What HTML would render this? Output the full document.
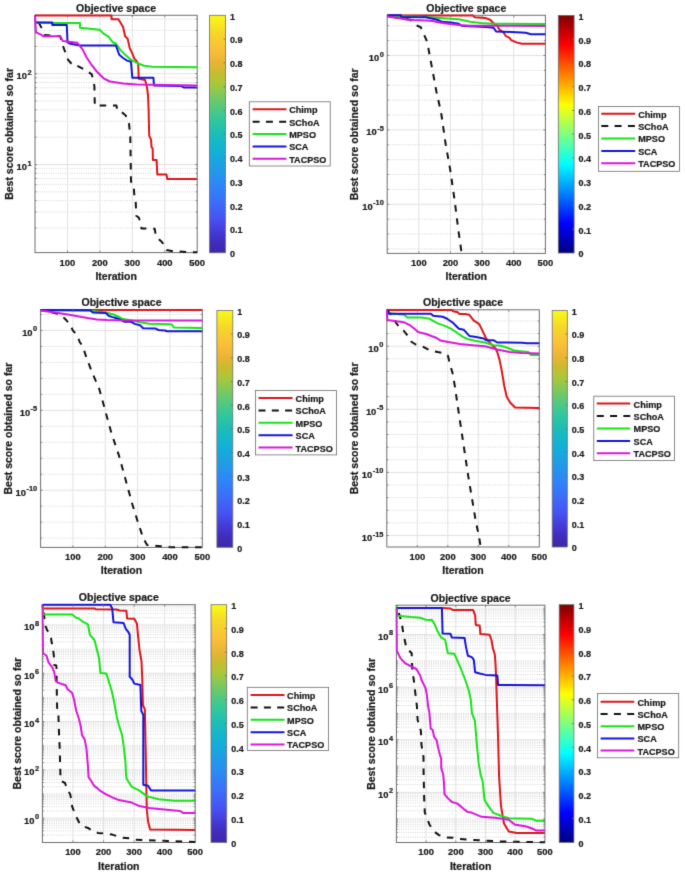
<!DOCTYPE html>
<html><head><meta charset="utf-8"><title>Objective space</title>
<style>html,body{margin:0;padding:0;background:#fff;width:685px;height:876px;overflow:hidden}svg{display:block}</style>
</head><body>
<svg width="685" height="876" viewBox="0 0 685 876"><defs><filter id="bl" x="0" y="0" width="685" height="876" filterUnits="userSpaceOnUse" color-interpolation-filters="sRGB"><feConvolveMatrix order="3" kernelMatrix="0.01 0.09 0.01 0.09 0.6 0.09 0.01 0.09 0.01" edgeMode="duplicate" preserveAlpha="true"/></filter><linearGradient id="parula" x1="0" y1="1" x2="0" y2="0"><stop offset="0.0000" stop-color="#3e26a8"/><stop offset="0.0500" stop-color="#412ec0"/><stop offset="0.0950" stop-color="#443ddb"/><stop offset="0.1430" stop-color="#4752f4"/><stop offset="0.2150" stop-color="#3b6ef9"/><stop offset="0.2860" stop-color="#2d87f7"/><stop offset="0.3570" stop-color="#1f9de6"/><stop offset="0.4290" stop-color="#12b1d6"/><stop offset="0.5000" stop-color="#1cbdb8"/><stop offset="0.5710" stop-color="#37c897"/><stop offset="0.6430" stop-color="#6cc96a"/><stop offset="0.7140" stop-color="#abc739"/><stop offset="0.7600" stop-color="#c9bb30"/><stop offset="0.8000" stop-color="#e8b435"/><stop offset="0.8570" stop-color="#fbbf38"/><stop offset="0.9300" stop-color="#f5d82a"/><stop offset="1.0000" stop-color="#f9fb15"/></linearGradient><linearGradient id="jet" x1="0" y1="1" x2="0" y2="0"><stop offset="0.0000" stop-color="#000080"/><stop offset="0.0156" stop-color="#00008f"/><stop offset="0.0312" stop-color="#00009f"/><stop offset="0.0469" stop-color="#0000af"/><stop offset="0.0625" stop-color="#0000bf"/><stop offset="0.0781" stop-color="#0000cf"/><stop offset="0.0938" stop-color="#0000df"/><stop offset="0.1094" stop-color="#0000ef"/><stop offset="0.1250" stop-color="#0000ff"/><stop offset="0.1406" stop-color="#0010ff"/><stop offset="0.1562" stop-color="#0020ff"/><stop offset="0.1719" stop-color="#0030ff"/><stop offset="0.1875" stop-color="#0040ff"/><stop offset="0.2031" stop-color="#0050ff"/><stop offset="0.2188" stop-color="#0060ff"/><stop offset="0.2344" stop-color="#0070ff"/><stop offset="0.2500" stop-color="#0080ff"/><stop offset="0.2656" stop-color="#008fff"/><stop offset="0.2812" stop-color="#009fff"/><stop offset="0.2969" stop-color="#00afff"/><stop offset="0.3125" stop-color="#00bfff"/><stop offset="0.3281" stop-color="#00cfff"/><stop offset="0.3438" stop-color="#00dfff"/><stop offset="0.3594" stop-color="#00efff"/><stop offset="0.3750" stop-color="#00ffff"/><stop offset="0.3906" stop-color="#10ffef"/><stop offset="0.4062" stop-color="#20ffdf"/><stop offset="0.4219" stop-color="#30ffcf"/><stop offset="0.4375" stop-color="#40ffbf"/><stop offset="0.4531" stop-color="#50ffaf"/><stop offset="0.4688" stop-color="#60ff9f"/><stop offset="0.4844" stop-color="#70ff8f"/><stop offset="0.5000" stop-color="#80ff80"/><stop offset="0.5156" stop-color="#8fff70"/><stop offset="0.5312" stop-color="#9fff60"/><stop offset="0.5469" stop-color="#afff50"/><stop offset="0.5625" stop-color="#bfff40"/><stop offset="0.5781" stop-color="#cfff30"/><stop offset="0.5938" stop-color="#dfff20"/><stop offset="0.6094" stop-color="#efff10"/><stop offset="0.6250" stop-color="#ffff00"/><stop offset="0.6406" stop-color="#ffef00"/><stop offset="0.6562" stop-color="#ffdf00"/><stop offset="0.6719" stop-color="#ffcf00"/><stop offset="0.6875" stop-color="#ffbf00"/><stop offset="0.7031" stop-color="#ffaf00"/><stop offset="0.7188" stop-color="#ff9f00"/><stop offset="0.7344" stop-color="#ff8f00"/><stop offset="0.7500" stop-color="#ff8000"/><stop offset="0.7656" stop-color="#ff7000"/><stop offset="0.7812" stop-color="#ff6000"/><stop offset="0.7969" stop-color="#ff5000"/><stop offset="0.8125" stop-color="#ff4000"/><stop offset="0.8281" stop-color="#ff3000"/><stop offset="0.8438" stop-color="#ff2000"/><stop offset="0.8594" stop-color="#ff1000"/><stop offset="0.8750" stop-color="#ff0000"/><stop offset="0.8906" stop-color="#ef0000"/><stop offset="0.9062" stop-color="#df0000"/><stop offset="0.9219" stop-color="#cf0000"/><stop offset="0.9375" stop-color="#bf0000"/><stop offset="0.9531" stop-color="#af0000"/><stop offset="0.9688" stop-color="#9f0000"/><stop offset="0.9844" stop-color="#8f0000"/><stop offset="1.0000" stop-color="#800000"/></linearGradient></defs><g filter="url(#bl)"><rect width="685" height="876" fill="#fff"/><line x1="35.0" y1="227.97" x2="197.2" y2="227.97" stroke="#cbcbcb" stroke-width="0.8" stroke-dasharray="1 1.3"/>
<line x1="35.0" y1="211.98" x2="197.2" y2="211.98" stroke="#cbcbcb" stroke-width="0.8" stroke-dasharray="1 1.3"/>
<line x1="35.0" y1="200.63" x2="197.2" y2="200.63" stroke="#cbcbcb" stroke-width="0.8" stroke-dasharray="1 1.3"/>
<line x1="35.0" y1="191.83" x2="197.2" y2="191.83" stroke="#cbcbcb" stroke-width="0.8" stroke-dasharray="1 1.3"/>
<line x1="35.0" y1="184.64" x2="197.2" y2="184.64" stroke="#cbcbcb" stroke-width="0.8" stroke-dasharray="1 1.3"/>
<line x1="35.0" y1="178.57" x2="197.2" y2="178.57" stroke="#cbcbcb" stroke-width="0.8" stroke-dasharray="1 1.3"/>
<line x1="35.0" y1="173.30" x2="197.2" y2="173.30" stroke="#cbcbcb" stroke-width="0.8" stroke-dasharray="1 1.3"/>
<line x1="35.0" y1="168.65" x2="197.2" y2="168.65" stroke="#cbcbcb" stroke-width="0.8" stroke-dasharray="1 1.3"/>
<line x1="35.0" y1="137.17" x2="197.2" y2="137.17" stroke="#cbcbcb" stroke-width="0.8" stroke-dasharray="1 1.3"/>
<line x1="35.0" y1="121.18" x2="197.2" y2="121.18" stroke="#cbcbcb" stroke-width="0.8" stroke-dasharray="1 1.3"/>
<line x1="35.0" y1="109.83" x2="197.2" y2="109.83" stroke="#cbcbcb" stroke-width="0.8" stroke-dasharray="1 1.3"/>
<line x1="35.0" y1="101.03" x2="197.2" y2="101.03" stroke="#cbcbcb" stroke-width="0.8" stroke-dasharray="1 1.3"/>
<line x1="35.0" y1="93.84" x2="197.2" y2="93.84" stroke="#cbcbcb" stroke-width="0.8" stroke-dasharray="1 1.3"/>
<line x1="35.0" y1="87.77" x2="197.2" y2="87.77" stroke="#cbcbcb" stroke-width="0.8" stroke-dasharray="1 1.3"/>
<line x1="35.0" y1="82.50" x2="197.2" y2="82.50" stroke="#cbcbcb" stroke-width="0.8" stroke-dasharray="1 1.3"/>
<line x1="35.0" y1="77.85" x2="197.2" y2="77.85" stroke="#cbcbcb" stroke-width="0.8" stroke-dasharray="1 1.3"/>
<line x1="35.0" y1="46.37" x2="197.2" y2="46.37" stroke="#cbcbcb" stroke-width="0.8" stroke-dasharray="1 1.3"/>
<line x1="35.0" y1="30.38" x2="197.2" y2="30.38" stroke="#cbcbcb" stroke-width="0.8" stroke-dasharray="1 1.3"/>
<line x1="35.0" y1="19.03" x2="197.2" y2="19.03" stroke="#cbcbcb" stroke-width="0.8" stroke-dasharray="1 1.3"/>
<line x1="35.0" y1="164.50" x2="197.2" y2="164.50" stroke="#e2e2e2" stroke-width="1"/>
<line x1="35.0" y1="73.70" x2="197.2" y2="73.70" stroke="#e2e2e2" stroke-width="1"/>
<line x1="67.44" y1="15.3" x2="67.44" y2="252.6" stroke="#e2e2e2" stroke-width="1"/>
<line x1="99.88" y1="15.3" x2="99.88" y2="252.6" stroke="#e2e2e2" stroke-width="1"/>
<line x1="132.32" y1="15.3" x2="132.32" y2="252.6" stroke="#e2e2e2" stroke-width="1"/>
<line x1="164.76" y1="15.3" x2="164.76" y2="252.6" stroke="#e2e2e2" stroke-width="1"/>
<rect x="35.0" y="15.3" width="162.2" height="237.3" fill="none" stroke="#6e6e6e" stroke-width="1"/>
<g fill="none" stroke-width="2" stroke-linejoin="round" stroke-linecap="butt">
<clipPath id="c1"><rect x="34.0" y="13.8" width="164.2" height="240.3"/></clipPath>
<path clip-path="url(#c1)" d="M35.0,15.5 L111.5,15.5 L111.5,19.2 L118.5,19.2 L119.9,21.8 L123.1,27.1 L125.1,36.3 L127.7,38.9 L129.7,48.1 L132.3,53.4 L134.3,58.6 L136.3,60.6 L138.2,63.9 L138.7,78.7 L145.1,79.9 L146.9,86.9 L148.0,95.0 L148.6,109.0 L149.2,135.9 L151.0,139.4 L151.5,147.0 L152.7,148.8 L152.9,159.9 L156.6,159.9 L157.3,174.5 L166.5,174.5 L167.2,178.9 L197.2,178.9" stroke="#dc1419"/>
<path clip-path="url(#c1)" d="M35.0,15.5 L41.8,28.4 L44.5,35.0 L60.2,36.3 L62.8,45.5 L68.1,59.9 L73.4,65.8 L77.3,65.8 L85.2,69.8 L91.8,74.4 L94.4,85.9 L94.8,105.6 L116.5,105.6 L117.2,110.2 L121.8,112.2 L125.7,115.5 L129.0,123.4 L130.3,136.5 L131.0,181.5 L133.7,185.5 L134.3,194.7 L135.6,199.9 L136.3,215.7 L138.9,217.7 L140.9,224.9 L141.5,228.5 L154.7,228.8 L156.0,236.7 L160.6,240.7 L163.9,244.6 L166.5,249.9 L173.1,251.2 L194.1,252.3 L197.2,252.3" stroke="#111111" stroke-dasharray="6.5 6.8" stroke-dashoffset="5.5"/>
<path clip-path="url(#c1)" d="M35.0,22.5 L52.3,23.1 L80.0,23.1 L80.0,27.7 L99.6,29.7 L103.6,33.6 L108.8,36.9 L112.6,42.2 L115.9,43.5 L120.5,50.1 L125.8,55.3 L131.0,59.9 L137.6,63.2 L144.2,65.8 L152.0,66.8 L197.2,67.2" stroke="#16e416"/>
<path clip-path="url(#c1)" d="M35.0,22.5 L52.3,22.5 L52.3,25.1 L66.8,25.1 L67.5,42.2 L69.4,43.5 L80.0,45.5 L115.9,45.5 L119.2,54.7 L123.1,58.0 L127.1,60.6 L131.0,61.9 L132.3,77.7 L153.4,77.7 L154.0,85.5 L181.0,86.0 L183.6,87.5 L197.2,87.5" stroke="#1414dc"/>
<path clip-path="url(#c1)" d="M35.0,15.5 L35.9,32.3 L40.5,34.3 L43.1,36.3 L60.2,36.3 L62.8,40.9 L77.3,42.8 L82.6,49.4 L86.5,57.3 L91.8,65.2 L97.0,71.8 L103.6,78.3 L108.8,81.0 L110.0,81.6 L123.1,83.6 L136.3,84.6 L197.2,85.5" stroke="#da16da"/>
</g>
<line x1="35.0" y1="227.97" x2="36.5" y2="227.97" stroke="#6e6e6e" stroke-width="0.8"/>
<line x1="195.7" y1="227.97" x2="197.2" y2="227.97" stroke="#6e6e6e" stroke-width="0.8"/>
<line x1="35.0" y1="211.98" x2="36.5" y2="211.98" stroke="#6e6e6e" stroke-width="0.8"/>
<line x1="195.7" y1="211.98" x2="197.2" y2="211.98" stroke="#6e6e6e" stroke-width="0.8"/>
<line x1="35.0" y1="200.63" x2="36.5" y2="200.63" stroke="#6e6e6e" stroke-width="0.8"/>
<line x1="195.7" y1="200.63" x2="197.2" y2="200.63" stroke="#6e6e6e" stroke-width="0.8"/>
<line x1="35.0" y1="191.83" x2="36.5" y2="191.83" stroke="#6e6e6e" stroke-width="0.8"/>
<line x1="195.7" y1="191.83" x2="197.2" y2="191.83" stroke="#6e6e6e" stroke-width="0.8"/>
<line x1="35.0" y1="184.64" x2="36.5" y2="184.64" stroke="#6e6e6e" stroke-width="0.8"/>
<line x1="195.7" y1="184.64" x2="197.2" y2="184.64" stroke="#6e6e6e" stroke-width="0.8"/>
<line x1="35.0" y1="178.57" x2="36.5" y2="178.57" stroke="#6e6e6e" stroke-width="0.8"/>
<line x1="195.7" y1="178.57" x2="197.2" y2="178.57" stroke="#6e6e6e" stroke-width="0.8"/>
<line x1="35.0" y1="173.30" x2="36.5" y2="173.30" stroke="#6e6e6e" stroke-width="0.8"/>
<line x1="195.7" y1="173.30" x2="197.2" y2="173.30" stroke="#6e6e6e" stroke-width="0.8"/>
<line x1="35.0" y1="168.65" x2="36.5" y2="168.65" stroke="#6e6e6e" stroke-width="0.8"/>
<line x1="195.7" y1="168.65" x2="197.2" y2="168.65" stroke="#6e6e6e" stroke-width="0.8"/>
<line x1="35.0" y1="137.17" x2="36.5" y2="137.17" stroke="#6e6e6e" stroke-width="0.8"/>
<line x1="195.7" y1="137.17" x2="197.2" y2="137.17" stroke="#6e6e6e" stroke-width="0.8"/>
<line x1="35.0" y1="121.18" x2="36.5" y2="121.18" stroke="#6e6e6e" stroke-width="0.8"/>
<line x1="195.7" y1="121.18" x2="197.2" y2="121.18" stroke="#6e6e6e" stroke-width="0.8"/>
<line x1="35.0" y1="109.83" x2="36.5" y2="109.83" stroke="#6e6e6e" stroke-width="0.8"/>
<line x1="195.7" y1="109.83" x2="197.2" y2="109.83" stroke="#6e6e6e" stroke-width="0.8"/>
<line x1="35.0" y1="101.03" x2="36.5" y2="101.03" stroke="#6e6e6e" stroke-width="0.8"/>
<line x1="195.7" y1="101.03" x2="197.2" y2="101.03" stroke="#6e6e6e" stroke-width="0.8"/>
<line x1="35.0" y1="93.84" x2="36.5" y2="93.84" stroke="#6e6e6e" stroke-width="0.8"/>
<line x1="195.7" y1="93.84" x2="197.2" y2="93.84" stroke="#6e6e6e" stroke-width="0.8"/>
<line x1="35.0" y1="87.77" x2="36.5" y2="87.77" stroke="#6e6e6e" stroke-width="0.8"/>
<line x1="195.7" y1="87.77" x2="197.2" y2="87.77" stroke="#6e6e6e" stroke-width="0.8"/>
<line x1="35.0" y1="82.50" x2="36.5" y2="82.50" stroke="#6e6e6e" stroke-width="0.8"/>
<line x1="195.7" y1="82.50" x2="197.2" y2="82.50" stroke="#6e6e6e" stroke-width="0.8"/>
<line x1="35.0" y1="77.85" x2="36.5" y2="77.85" stroke="#6e6e6e" stroke-width="0.8"/>
<line x1="195.7" y1="77.85" x2="197.2" y2="77.85" stroke="#6e6e6e" stroke-width="0.8"/>
<line x1="35.0" y1="46.37" x2="36.5" y2="46.37" stroke="#6e6e6e" stroke-width="0.8"/>
<line x1="195.7" y1="46.37" x2="197.2" y2="46.37" stroke="#6e6e6e" stroke-width="0.8"/>
<line x1="35.0" y1="30.38" x2="36.5" y2="30.38" stroke="#6e6e6e" stroke-width="0.8"/>
<line x1="195.7" y1="30.38" x2="197.2" y2="30.38" stroke="#6e6e6e" stroke-width="0.8"/>
<line x1="35.0" y1="19.03" x2="36.5" y2="19.03" stroke="#6e6e6e" stroke-width="0.8"/>
<line x1="195.7" y1="19.03" x2="197.2" y2="19.03" stroke="#6e6e6e" stroke-width="0.8"/>
<line x1="67.44" y1="252.6" x2="67.44" y2="250.6" stroke="#6e6e6e" stroke-width="0.8"/>
<line x1="67.44" y1="15.3" x2="67.44" y2="17.3" stroke="#6e6e6e" stroke-width="0.8"/>
<line x1="99.88" y1="252.6" x2="99.88" y2="250.6" stroke="#6e6e6e" stroke-width="0.8"/>
<line x1="99.88" y1="15.3" x2="99.88" y2="17.3" stroke="#6e6e6e" stroke-width="0.8"/>
<line x1="132.32" y1="252.6" x2="132.32" y2="250.6" stroke="#6e6e6e" stroke-width="0.8"/>
<line x1="132.32" y1="15.3" x2="132.32" y2="17.3" stroke="#6e6e6e" stroke-width="0.8"/>
<line x1="164.76" y1="252.6" x2="164.76" y2="250.6" stroke="#6e6e6e" stroke-width="0.8"/>
<line x1="164.76" y1="15.3" x2="164.76" y2="17.3" stroke="#6e6e6e" stroke-width="0.8"/>
<line x1="35.0" y1="164.50" x2="37.0" y2="164.50" stroke="#6e6e6e" stroke-width="0.8"/>
<line x1="197.2" y1="164.50" x2="195.2" y2="164.50" stroke="#6e6e6e" stroke-width="0.8"/>
<line x1="35.0" y1="73.70" x2="37.0" y2="73.70" stroke="#6e6e6e" stroke-width="0.8"/>
<line x1="197.2" y1="73.70" x2="195.2" y2="73.70" stroke="#6e6e6e" stroke-width="0.8"/>
<text x="67.44" y="265.5" text-anchor="middle" font-size="9.4" font-family="&quot;Liberation Sans&quot;, sans-serif" font-weight="bold" stroke="#1a1a1a" stroke-width="0.22" fill="#1a1a1a">100</text>
<text x="99.88" y="265.5" text-anchor="middle" font-size="9.4" font-family="&quot;Liberation Sans&quot;, sans-serif" font-weight="bold" stroke="#1a1a1a" stroke-width="0.22" fill="#1a1a1a">200</text>
<text x="132.32" y="265.5" text-anchor="middle" font-size="9.4" font-family="&quot;Liberation Sans&quot;, sans-serif" font-weight="bold" stroke="#1a1a1a" stroke-width="0.22" fill="#1a1a1a">300</text>
<text x="164.76" y="265.5" text-anchor="middle" font-size="9.4" font-family="&quot;Liberation Sans&quot;, sans-serif" font-weight="bold" stroke="#1a1a1a" stroke-width="0.22" fill="#1a1a1a">400</text>
<text x="197.20" y="265.5" text-anchor="middle" font-size="9.4" font-family="&quot;Liberation Sans&quot;, sans-serif" font-weight="bold" stroke="#1a1a1a" stroke-width="0.22" fill="#1a1a1a">500</text>
<text x="31.6" y="170.00" text-anchor="end" font-size="9.4" font-family="&quot;Liberation Sans&quot;, sans-serif" font-weight="bold" stroke="#1a1a1a" stroke-width="0.22" fill="#1a1a1a">10<tspan font-size="7.4" dx="0.5" dy="-4.5">1</tspan></text>
<text x="31.6" y="79.20" text-anchor="end" font-size="9.4" font-family="&quot;Liberation Sans&quot;, sans-serif" font-weight="bold" stroke="#1a1a1a" stroke-width="0.22" fill="#1a1a1a">10<tspan font-size="7.4" dx="0.5" dy="-4.5">2</tspan></text>
<text x="116.1" y="11.9" text-anchor="middle" font-size="10.5" font-family="&quot;Liberation Sans&quot;, sans-serif" font-weight="bold" stroke="#1a1a1a" stroke-width="0.22" fill="#1a1a1a">Objective space</text>
<text x="116.1" y="279.6" text-anchor="middle" font-size="10.5" font-family="&quot;Liberation Sans&quot;, sans-serif" font-weight="bold" stroke="#1a1a1a" stroke-width="0.22" fill="#1a1a1a">Iteration</text>
<text transform="translate(13.1 133.9) rotate(-90)" x="0" y="0" text-anchor="middle" font-size="10.5" font-family="&quot;Liberation Sans&quot;, sans-serif" font-weight="bold" stroke="#1a1a1a" stroke-width="0.22" fill="#1a1a1a">Best score obtained so far</text>
<rect x="209.6" y="15.3" width="15.9" height="237.5" fill="url(#parula)" stroke="#6e6e6e" stroke-width="0.8"/>
<text x="230.0" y="257.20" font-size="9" font-family="&quot;Liberation Sans&quot;, sans-serif" font-weight="bold" stroke="#1a1a1a" stroke-width="0.22" fill="#1a1a1a">0</text>
<line x1="223.5" y1="229.05" x2="225.5" y2="229.05" stroke="#6e6e6e" stroke-width="0.8"/>
<text x="230.0" y="233.45" font-size="9" font-family="&quot;Liberation Sans&quot;, sans-serif" font-weight="bold" stroke="#1a1a1a" stroke-width="0.22" fill="#1a1a1a">0.1</text>
<line x1="223.5" y1="205.30" x2="225.5" y2="205.30" stroke="#6e6e6e" stroke-width="0.8"/>
<text x="230.0" y="209.70" font-size="9" font-family="&quot;Liberation Sans&quot;, sans-serif" font-weight="bold" stroke="#1a1a1a" stroke-width="0.22" fill="#1a1a1a">0.2</text>
<line x1="223.5" y1="181.55" x2="225.5" y2="181.55" stroke="#6e6e6e" stroke-width="0.8"/>
<text x="230.0" y="185.95" font-size="9" font-family="&quot;Liberation Sans&quot;, sans-serif" font-weight="bold" stroke="#1a1a1a" stroke-width="0.22" fill="#1a1a1a">0.3</text>
<line x1="223.5" y1="157.80" x2="225.5" y2="157.80" stroke="#6e6e6e" stroke-width="0.8"/>
<text x="230.0" y="162.20" font-size="9" font-family="&quot;Liberation Sans&quot;, sans-serif" font-weight="bold" stroke="#1a1a1a" stroke-width="0.22" fill="#1a1a1a">0.4</text>
<line x1="223.5" y1="134.05" x2="225.5" y2="134.05" stroke="#6e6e6e" stroke-width="0.8"/>
<text x="230.0" y="138.45" font-size="9" font-family="&quot;Liberation Sans&quot;, sans-serif" font-weight="bold" stroke="#1a1a1a" stroke-width="0.22" fill="#1a1a1a">0.5</text>
<line x1="223.5" y1="110.30" x2="225.5" y2="110.30" stroke="#6e6e6e" stroke-width="0.8"/>
<text x="230.0" y="114.70" font-size="9" font-family="&quot;Liberation Sans&quot;, sans-serif" font-weight="bold" stroke="#1a1a1a" stroke-width="0.22" fill="#1a1a1a">0.6</text>
<line x1="223.5" y1="86.55" x2="225.5" y2="86.55" stroke="#6e6e6e" stroke-width="0.8"/>
<text x="230.0" y="90.95" font-size="9" font-family="&quot;Liberation Sans&quot;, sans-serif" font-weight="bold" stroke="#1a1a1a" stroke-width="0.22" fill="#1a1a1a">0.7</text>
<line x1="223.5" y1="62.80" x2="225.5" y2="62.80" stroke="#6e6e6e" stroke-width="0.8"/>
<text x="230.0" y="67.20" font-size="9" font-family="&quot;Liberation Sans&quot;, sans-serif" font-weight="bold" stroke="#1a1a1a" stroke-width="0.22" fill="#1a1a1a">0.8</text>
<line x1="223.5" y1="39.05" x2="225.5" y2="39.05" stroke="#6e6e6e" stroke-width="0.8"/>
<text x="230.0" y="43.45" font-size="9" font-family="&quot;Liberation Sans&quot;, sans-serif" font-weight="bold" stroke="#1a1a1a" stroke-width="0.22" fill="#1a1a1a">0.9</text>
<text x="230.0" y="19.70" font-size="9" font-family="&quot;Liberation Sans&quot;, sans-serif" font-weight="bold" stroke="#1a1a1a" stroke-width="0.22" fill="#1a1a1a">1</text>
<rect x="249.3" y="101.8" width="80.9" height="64.2" fill="#fff" stroke="#6e6e6e" stroke-width="0.8"/>
<line x1="252.6" y1="109.3" x2="286.4" y2="109.3" stroke="#dc1419" stroke-width="2"/>
<text x="289.2" y="113.2" font-size="9.1" font-family="&quot;Liberation Sans&quot;, sans-serif" font-weight="bold" stroke="#1a1a1a" stroke-width="0.22" fill="#1a1a1a">Chimp</text>
<line x1="252.6" y1="121.7" x2="286.4" y2="121.7" stroke="#111111" stroke-width="2" stroke-dasharray="7 6.3"/>
<text x="289.2" y="125.6" font-size="9.1" font-family="&quot;Liberation Sans&quot;, sans-serif" font-weight="bold" stroke="#1a1a1a" stroke-width="0.22" fill="#1a1a1a">SChoA</text>
<line x1="252.6" y1="134.0" x2="286.4" y2="134.0" stroke="#16e416" stroke-width="2"/>
<text x="289.2" y="137.9" font-size="9.1" font-family="&quot;Liberation Sans&quot;, sans-serif" font-weight="bold" stroke="#1a1a1a" stroke-width="0.22" fill="#1a1a1a">MPSO</text>
<line x1="252.6" y1="146.4" x2="286.4" y2="146.4" stroke="#1414dc" stroke-width="2"/>
<text x="289.2" y="150.3" font-size="9.1" font-family="&quot;Liberation Sans&quot;, sans-serif" font-weight="bold" stroke="#1a1a1a" stroke-width="0.22" fill="#1a1a1a">SCA</text>
<line x1="252.6" y1="158.7" x2="286.4" y2="158.7" stroke="#da16da" stroke-width="2"/>
<text x="289.2" y="162.6" font-size="9.1" font-family="&quot;Liberation Sans&quot;, sans-serif" font-weight="bold" stroke="#1a1a1a" stroke-width="0.22" fill="#1a1a1a">TACPSO</text>
<line x1="387.2" y1="248.94" x2="545.4" y2="248.94" stroke="#cbcbcb" stroke-width="0.8" stroke-dasharray="1 1.3"/>
<line x1="387.2" y1="234.06" x2="545.4" y2="234.06" stroke="#cbcbcb" stroke-width="0.8" stroke-dasharray="1 1.3"/>
<line x1="387.2" y1="219.18" x2="545.4" y2="219.18" stroke="#cbcbcb" stroke-width="0.8" stroke-dasharray="1 1.3"/>
<line x1="387.2" y1="189.42" x2="545.4" y2="189.42" stroke="#cbcbcb" stroke-width="0.8" stroke-dasharray="1 1.3"/>
<line x1="387.2" y1="174.54" x2="545.4" y2="174.54" stroke="#cbcbcb" stroke-width="0.8" stroke-dasharray="1 1.3"/>
<line x1="387.2" y1="159.66" x2="545.4" y2="159.66" stroke="#cbcbcb" stroke-width="0.8" stroke-dasharray="1 1.3"/>
<line x1="387.2" y1="144.78" x2="545.4" y2="144.78" stroke="#cbcbcb" stroke-width="0.8" stroke-dasharray="1 1.3"/>
<line x1="387.2" y1="115.02" x2="545.4" y2="115.02" stroke="#cbcbcb" stroke-width="0.8" stroke-dasharray="1 1.3"/>
<line x1="387.2" y1="100.14" x2="545.4" y2="100.14" stroke="#cbcbcb" stroke-width="0.8" stroke-dasharray="1 1.3"/>
<line x1="387.2" y1="85.26" x2="545.4" y2="85.26" stroke="#cbcbcb" stroke-width="0.8" stroke-dasharray="1 1.3"/>
<line x1="387.2" y1="70.38" x2="545.4" y2="70.38" stroke="#cbcbcb" stroke-width="0.8" stroke-dasharray="1 1.3"/>
<line x1="387.2" y1="40.62" x2="545.4" y2="40.62" stroke="#cbcbcb" stroke-width="0.8" stroke-dasharray="1 1.3"/>
<line x1="387.2" y1="25.74" x2="545.4" y2="25.74" stroke="#cbcbcb" stroke-width="0.8" stroke-dasharray="1 1.3"/>
<line x1="387.2" y1="55.50" x2="545.4" y2="55.50" stroke="#e2e2e2" stroke-width="1"/>
<line x1="387.2" y1="129.90" x2="545.4" y2="129.90" stroke="#e2e2e2" stroke-width="1"/>
<line x1="387.2" y1="204.30" x2="545.4" y2="204.30" stroke="#e2e2e2" stroke-width="1"/>
<line x1="418.84" y1="15.3" x2="418.84" y2="253.4" stroke="#e2e2e2" stroke-width="1"/>
<line x1="450.48" y1="15.3" x2="450.48" y2="253.4" stroke="#e2e2e2" stroke-width="1"/>
<line x1="482.12" y1="15.3" x2="482.12" y2="253.4" stroke="#e2e2e2" stroke-width="1"/>
<line x1="513.76" y1="15.3" x2="513.76" y2="253.4" stroke="#e2e2e2" stroke-width="1"/>
<rect x="387.2" y="15.3" width="158.2" height="238.1" fill="none" stroke="#6e6e6e" stroke-width="1"/>
<g fill="none" stroke-width="2" stroke-linejoin="round" stroke-linecap="butt">
<clipPath id="c2"><rect x="386.2" y="13.8" width="160.2" height="241.1"/></clipPath>
<path clip-path="url(#c2)" d="M387.2,15.5 L473.1,15.6 L474.5,17.2 L485.0,17.9 L490.2,19.8 L492.8,22.5 L496.8,25.1 L499.4,29.7 L503.4,32.3 L506.0,36.2 L509.3,37.6 L511.2,40.2 L516.5,42.4 L521.8,43.7 L545.4,43.7" stroke="#dc1419"/>
<path clip-path="url(#c2)" d="M387.2,15.9 L410.2,19.8 L415.5,25.1 L420.7,27.1 L424.7,36.2 L427.3,42.2 L429.9,56.6 L431.9,67.1 L436.5,92.0 L441.1,112.5 L445.7,144.5 L450.2,169.6 L454.8,201.6 L458.2,229.0 L461.6,253.0" stroke="#111111" stroke-dasharray="6.5 6.8" stroke-dashoffset="-5.4"/>
<path clip-path="url(#c2)" d="M387.2,16.1 L426.0,16.9 L439.1,17.9 L458.8,19.2 L470.5,21.8 L481.0,23.1 L492.8,23.8 L545.4,24.0" stroke="#16e416"/>
<path clip-path="url(#c2)" d="M387.2,15.2 L401.0,15.2 L401.0,16.9 L426.0,17.2 L435.2,19.2 L439.1,20.5 L441.8,21.8 L451.0,22.5 L458.8,23.8 L461.5,25.7 L470.0,26.2 L486.3,27.1 L493.5,27.7 L496.1,31.4 L503.4,31.7 L525.7,32.7 L531.0,34.3 L545.4,34.3" stroke="#1414dc"/>
<path clip-path="url(#c2)" d="M387.2,16.5 L401.0,18.5 L406.3,19.6 L414.2,20.1 L426.0,20.5 L432.6,21.1 L439.1,22.5 L448.3,23.8 L458.8,25.1 L470.0,25.7 L545.4,25.9" stroke="#da16da"/>
</g>
<line x1="387.2" y1="248.94" x2="388.7" y2="248.94" stroke="#6e6e6e" stroke-width="0.8"/>
<line x1="543.9" y1="248.94" x2="545.4" y2="248.94" stroke="#6e6e6e" stroke-width="0.8"/>
<line x1="387.2" y1="234.06" x2="388.7" y2="234.06" stroke="#6e6e6e" stroke-width="0.8"/>
<line x1="543.9" y1="234.06" x2="545.4" y2="234.06" stroke="#6e6e6e" stroke-width="0.8"/>
<line x1="387.2" y1="219.18" x2="388.7" y2="219.18" stroke="#6e6e6e" stroke-width="0.8"/>
<line x1="543.9" y1="219.18" x2="545.4" y2="219.18" stroke="#6e6e6e" stroke-width="0.8"/>
<line x1="387.2" y1="189.42" x2="388.7" y2="189.42" stroke="#6e6e6e" stroke-width="0.8"/>
<line x1="543.9" y1="189.42" x2="545.4" y2="189.42" stroke="#6e6e6e" stroke-width="0.8"/>
<line x1="387.2" y1="174.54" x2="388.7" y2="174.54" stroke="#6e6e6e" stroke-width="0.8"/>
<line x1="543.9" y1="174.54" x2="545.4" y2="174.54" stroke="#6e6e6e" stroke-width="0.8"/>
<line x1="387.2" y1="159.66" x2="388.7" y2="159.66" stroke="#6e6e6e" stroke-width="0.8"/>
<line x1="543.9" y1="159.66" x2="545.4" y2="159.66" stroke="#6e6e6e" stroke-width="0.8"/>
<line x1="387.2" y1="144.78" x2="388.7" y2="144.78" stroke="#6e6e6e" stroke-width="0.8"/>
<line x1="543.9" y1="144.78" x2="545.4" y2="144.78" stroke="#6e6e6e" stroke-width="0.8"/>
<line x1="387.2" y1="115.02" x2="388.7" y2="115.02" stroke="#6e6e6e" stroke-width="0.8"/>
<line x1="543.9" y1="115.02" x2="545.4" y2="115.02" stroke="#6e6e6e" stroke-width="0.8"/>
<line x1="387.2" y1="100.14" x2="388.7" y2="100.14" stroke="#6e6e6e" stroke-width="0.8"/>
<line x1="543.9" y1="100.14" x2="545.4" y2="100.14" stroke="#6e6e6e" stroke-width="0.8"/>
<line x1="387.2" y1="85.26" x2="388.7" y2="85.26" stroke="#6e6e6e" stroke-width="0.8"/>
<line x1="543.9" y1="85.26" x2="545.4" y2="85.26" stroke="#6e6e6e" stroke-width="0.8"/>
<line x1="387.2" y1="70.38" x2="388.7" y2="70.38" stroke="#6e6e6e" stroke-width="0.8"/>
<line x1="543.9" y1="70.38" x2="545.4" y2="70.38" stroke="#6e6e6e" stroke-width="0.8"/>
<line x1="387.2" y1="40.62" x2="388.7" y2="40.62" stroke="#6e6e6e" stroke-width="0.8"/>
<line x1="543.9" y1="40.62" x2="545.4" y2="40.62" stroke="#6e6e6e" stroke-width="0.8"/>
<line x1="387.2" y1="25.74" x2="388.7" y2="25.74" stroke="#6e6e6e" stroke-width="0.8"/>
<line x1="543.9" y1="25.74" x2="545.4" y2="25.74" stroke="#6e6e6e" stroke-width="0.8"/>
<line x1="418.84" y1="253.4" x2="418.84" y2="251.4" stroke="#6e6e6e" stroke-width="0.8"/>
<line x1="418.84" y1="15.3" x2="418.84" y2="17.3" stroke="#6e6e6e" stroke-width="0.8"/>
<line x1="450.48" y1="253.4" x2="450.48" y2="251.4" stroke="#6e6e6e" stroke-width="0.8"/>
<line x1="450.48" y1="15.3" x2="450.48" y2="17.3" stroke="#6e6e6e" stroke-width="0.8"/>
<line x1="482.12" y1="253.4" x2="482.12" y2="251.4" stroke="#6e6e6e" stroke-width="0.8"/>
<line x1="482.12" y1="15.3" x2="482.12" y2="17.3" stroke="#6e6e6e" stroke-width="0.8"/>
<line x1="513.76" y1="253.4" x2="513.76" y2="251.4" stroke="#6e6e6e" stroke-width="0.8"/>
<line x1="513.76" y1="15.3" x2="513.76" y2="17.3" stroke="#6e6e6e" stroke-width="0.8"/>
<line x1="387.2" y1="55.50" x2="389.2" y2="55.50" stroke="#6e6e6e" stroke-width="0.8"/>
<line x1="545.4" y1="55.50" x2="543.4" y2="55.50" stroke="#6e6e6e" stroke-width="0.8"/>
<line x1="387.2" y1="129.90" x2="389.2" y2="129.90" stroke="#6e6e6e" stroke-width="0.8"/>
<line x1="545.4" y1="129.90" x2="543.4" y2="129.90" stroke="#6e6e6e" stroke-width="0.8"/>
<line x1="387.2" y1="204.30" x2="389.2" y2="204.30" stroke="#6e6e6e" stroke-width="0.8"/>
<line x1="545.4" y1="204.30" x2="543.4" y2="204.30" stroke="#6e6e6e" stroke-width="0.8"/>
<text x="418.84" y="266.3" text-anchor="middle" font-size="9.4" font-family="&quot;Liberation Sans&quot;, sans-serif" font-weight="bold" stroke="#1a1a1a" stroke-width="0.22" fill="#1a1a1a">100</text>
<text x="450.48" y="266.3" text-anchor="middle" font-size="9.4" font-family="&quot;Liberation Sans&quot;, sans-serif" font-weight="bold" stroke="#1a1a1a" stroke-width="0.22" fill="#1a1a1a">200</text>
<text x="482.12" y="266.3" text-anchor="middle" font-size="9.4" font-family="&quot;Liberation Sans&quot;, sans-serif" font-weight="bold" stroke="#1a1a1a" stroke-width="0.22" fill="#1a1a1a">300</text>
<text x="513.76" y="266.3" text-anchor="middle" font-size="9.4" font-family="&quot;Liberation Sans&quot;, sans-serif" font-weight="bold" stroke="#1a1a1a" stroke-width="0.22" fill="#1a1a1a">400</text>
<text x="545.40" y="266.3" text-anchor="middle" font-size="9.4" font-family="&quot;Liberation Sans&quot;, sans-serif" font-weight="bold" stroke="#1a1a1a" stroke-width="0.22" fill="#1a1a1a">500</text>
<text x="383.8" y="61.00" text-anchor="end" font-size="9.4" font-family="&quot;Liberation Sans&quot;, sans-serif" font-weight="bold" stroke="#1a1a1a" stroke-width="0.22" fill="#1a1a1a">10<tspan font-size="7.4" dx="0.5" dy="-4.5">0</tspan></text>
<text x="383.8" y="135.40" text-anchor="end" font-size="9.4" font-family="&quot;Liberation Sans&quot;, sans-serif" font-weight="bold" stroke="#1a1a1a" stroke-width="0.22" fill="#1a1a1a">10<tspan font-size="7.4" dx="0.5" dy="-4.5">-5</tspan></text>
<text x="383.8" y="209.80" text-anchor="end" font-size="9.4" font-family="&quot;Liberation Sans&quot;, sans-serif" font-weight="bold" stroke="#1a1a1a" stroke-width="0.22" fill="#1a1a1a">10<tspan font-size="7.4" dx="0.5" dy="-4.5">-10</tspan></text>
<text x="466.3" y="11.9" text-anchor="middle" font-size="10.5" font-family="&quot;Liberation Sans&quot;, sans-serif" font-weight="bold" stroke="#1a1a1a" stroke-width="0.22" fill="#1a1a1a">Objective space</text>
<text x="466.3" y="280.4" text-anchor="middle" font-size="10.5" font-family="&quot;Liberation Sans&quot;, sans-serif" font-weight="bold" stroke="#1a1a1a" stroke-width="0.22" fill="#1a1a1a">Iteration</text>
<text transform="translate(358.4 134.3) rotate(-90)" x="0" y="0" text-anchor="middle" font-size="10.5" font-family="&quot;Liberation Sans&quot;, sans-serif" font-weight="bold" stroke="#1a1a1a" stroke-width="0.22" fill="#1a1a1a">Best score obtained so far</text>
<rect x="558.3" y="15.4" width="15.8" height="237.6" fill="url(#jet)" stroke="#6e6e6e" stroke-width="0.8"/>
<text x="578.6" y="257.40" font-size="9" font-family="&quot;Liberation Sans&quot;, sans-serif" font-weight="bold" stroke="#1a1a1a" stroke-width="0.22" fill="#1a1a1a">0</text>
<line x1="572.1" y1="229.24" x2="574.1" y2="229.24" stroke="#6e6e6e" stroke-width="0.8"/>
<text x="578.6" y="233.64" font-size="9" font-family="&quot;Liberation Sans&quot;, sans-serif" font-weight="bold" stroke="#1a1a1a" stroke-width="0.22" fill="#1a1a1a">0.1</text>
<line x1="572.1" y1="205.48" x2="574.1" y2="205.48" stroke="#6e6e6e" stroke-width="0.8"/>
<text x="578.6" y="209.88" font-size="9" font-family="&quot;Liberation Sans&quot;, sans-serif" font-weight="bold" stroke="#1a1a1a" stroke-width="0.22" fill="#1a1a1a">0.2</text>
<line x1="572.1" y1="181.72" x2="574.1" y2="181.72" stroke="#6e6e6e" stroke-width="0.8"/>
<text x="578.6" y="186.12" font-size="9" font-family="&quot;Liberation Sans&quot;, sans-serif" font-weight="bold" stroke="#1a1a1a" stroke-width="0.22" fill="#1a1a1a">0.3</text>
<line x1="572.1" y1="157.96" x2="574.1" y2="157.96" stroke="#6e6e6e" stroke-width="0.8"/>
<text x="578.6" y="162.36" font-size="9" font-family="&quot;Liberation Sans&quot;, sans-serif" font-weight="bold" stroke="#1a1a1a" stroke-width="0.22" fill="#1a1a1a">0.4</text>
<line x1="572.1" y1="134.20" x2="574.1" y2="134.20" stroke="#6e6e6e" stroke-width="0.8"/>
<text x="578.6" y="138.60" font-size="9" font-family="&quot;Liberation Sans&quot;, sans-serif" font-weight="bold" stroke="#1a1a1a" stroke-width="0.22" fill="#1a1a1a">0.5</text>
<line x1="572.1" y1="110.44" x2="574.1" y2="110.44" stroke="#6e6e6e" stroke-width="0.8"/>
<text x="578.6" y="114.84" font-size="9" font-family="&quot;Liberation Sans&quot;, sans-serif" font-weight="bold" stroke="#1a1a1a" stroke-width="0.22" fill="#1a1a1a">0.6</text>
<line x1="572.1" y1="86.68" x2="574.1" y2="86.68" stroke="#6e6e6e" stroke-width="0.8"/>
<text x="578.6" y="91.08" font-size="9" font-family="&quot;Liberation Sans&quot;, sans-serif" font-weight="bold" stroke="#1a1a1a" stroke-width="0.22" fill="#1a1a1a">0.7</text>
<line x1="572.1" y1="62.92" x2="574.1" y2="62.92" stroke="#6e6e6e" stroke-width="0.8"/>
<text x="578.6" y="67.32" font-size="9" font-family="&quot;Liberation Sans&quot;, sans-serif" font-weight="bold" stroke="#1a1a1a" stroke-width="0.22" fill="#1a1a1a">0.8</text>
<line x1="572.1" y1="39.16" x2="574.1" y2="39.16" stroke="#6e6e6e" stroke-width="0.8"/>
<text x="578.6" y="43.56" font-size="9" font-family="&quot;Liberation Sans&quot;, sans-serif" font-weight="bold" stroke="#1a1a1a" stroke-width="0.22" fill="#1a1a1a">0.9</text>
<text x="578.6" y="19.80" font-size="9" font-family="&quot;Liberation Sans&quot;, sans-serif" font-weight="bold" stroke="#1a1a1a" stroke-width="0.22" fill="#1a1a1a">1</text>
<rect x="598.6" y="106.4" width="80.8" height="64.9" fill="#fff" stroke="#6e6e6e" stroke-width="0.8"/>
<line x1="601.3" y1="113.8" x2="635.2" y2="113.8" stroke="#dc1419" stroke-width="2"/>
<text x="638.2" y="117.7" font-size="9.1" font-family="&quot;Liberation Sans&quot;, sans-serif" font-weight="bold" stroke="#1a1a1a" stroke-width="0.22" fill="#1a1a1a">Chimp</text>
<line x1="601.3" y1="126.1" x2="635.2" y2="126.1" stroke="#111111" stroke-width="2" stroke-dasharray="7 6.3"/>
<text x="638.2" y="130.0" font-size="9.1" font-family="&quot;Liberation Sans&quot;, sans-serif" font-weight="bold" stroke="#1a1a1a" stroke-width="0.22" fill="#1a1a1a">SChoA</text>
<line x1="601.3" y1="138.5" x2="635.2" y2="138.5" stroke="#16e416" stroke-width="2"/>
<text x="638.2" y="142.4" font-size="9.1" font-family="&quot;Liberation Sans&quot;, sans-serif" font-weight="bold" stroke="#1a1a1a" stroke-width="0.22" fill="#1a1a1a">MPSO</text>
<line x1="601.3" y1="150.9" x2="635.2" y2="150.9" stroke="#1414dc" stroke-width="2"/>
<text x="638.2" y="154.8" font-size="9.1" font-family="&quot;Liberation Sans&quot;, sans-serif" font-weight="bold" stroke="#1a1a1a" stroke-width="0.22" fill="#1a1a1a">SCA</text>
<line x1="601.3" y1="163.2" x2="635.2" y2="163.2" stroke="#da16da" stroke-width="2"/>
<text x="638.2" y="167.1" font-size="9.1" font-family="&quot;Liberation Sans&quot;, sans-serif" font-weight="bold" stroke="#1a1a1a" stroke-width="0.22" fill="#1a1a1a">TACPSO</text>
<line x1="40.6" y1="538.14" x2="202.3" y2="538.14" stroke="#cbcbcb" stroke-width="0.8" stroke-dasharray="1 1.3"/>
<line x1="40.6" y1="522.16" x2="202.3" y2="522.16" stroke="#cbcbcb" stroke-width="0.8" stroke-dasharray="1 1.3"/>
<line x1="40.6" y1="506.18" x2="202.3" y2="506.18" stroke="#cbcbcb" stroke-width="0.8" stroke-dasharray="1 1.3"/>
<line x1="40.6" y1="474.22" x2="202.3" y2="474.22" stroke="#cbcbcb" stroke-width="0.8" stroke-dasharray="1 1.3"/>
<line x1="40.6" y1="458.24" x2="202.3" y2="458.24" stroke="#cbcbcb" stroke-width="0.8" stroke-dasharray="1 1.3"/>
<line x1="40.6" y1="442.26" x2="202.3" y2="442.26" stroke="#cbcbcb" stroke-width="0.8" stroke-dasharray="1 1.3"/>
<line x1="40.6" y1="426.28" x2="202.3" y2="426.28" stroke="#cbcbcb" stroke-width="0.8" stroke-dasharray="1 1.3"/>
<line x1="40.6" y1="394.32" x2="202.3" y2="394.32" stroke="#cbcbcb" stroke-width="0.8" stroke-dasharray="1 1.3"/>
<line x1="40.6" y1="378.34" x2="202.3" y2="378.34" stroke="#cbcbcb" stroke-width="0.8" stroke-dasharray="1 1.3"/>
<line x1="40.6" y1="362.36" x2="202.3" y2="362.36" stroke="#cbcbcb" stroke-width="0.8" stroke-dasharray="1 1.3"/>
<line x1="40.6" y1="346.38" x2="202.3" y2="346.38" stroke="#cbcbcb" stroke-width="0.8" stroke-dasharray="1 1.3"/>
<line x1="40.6" y1="314.42" x2="202.3" y2="314.42" stroke="#cbcbcb" stroke-width="0.8" stroke-dasharray="1 1.3"/>
<line x1="40.6" y1="330.40" x2="202.3" y2="330.40" stroke="#e2e2e2" stroke-width="1"/>
<line x1="40.6" y1="410.30" x2="202.3" y2="410.30" stroke="#e2e2e2" stroke-width="1"/>
<line x1="40.6" y1="490.20" x2="202.3" y2="490.20" stroke="#e2e2e2" stroke-width="1"/>
<line x1="72.94" y1="309.8" x2="72.94" y2="547.4" stroke="#e2e2e2" stroke-width="1"/>
<line x1="105.28" y1="309.8" x2="105.28" y2="547.4" stroke="#e2e2e2" stroke-width="1"/>
<line x1="137.62" y1="309.8" x2="137.62" y2="547.4" stroke="#e2e2e2" stroke-width="1"/>
<line x1="169.96" y1="309.8" x2="169.96" y2="547.4" stroke="#e2e2e2" stroke-width="1"/>
<rect x="40.6" y="309.8" width="161.7" height="237.6" fill="none" stroke="#6e6e6e" stroke-width="1"/>
<g fill="none" stroke-width="2" stroke-linejoin="round" stroke-linecap="butt">
<clipPath id="c3"><rect x="39.6" y="308.3" width="163.7" height="240.6"/></clipPath>
<path clip-path="url(#c3)" d="M40.6,310.0 L202.3,310.0" stroke="#dc1419"/>
<path clip-path="url(#c3)" d="M40.6,309.9 L54.7,313.1 L60.6,314.7 L65.9,319.7 L69.8,324.3 L73.1,330.9 L77.0,334.8 L79.7,342.0 L83.0,346.6 L85.6,355.2 L91.9,371.9 L99.3,389.1 L105.4,411.2 L111.5,433.3 L118.9,455.4 L125.0,477.5 L132.4,504.5 L138.5,524.1 L143.5,538.8 L147.1,545.0 L160.6,546.2 L170.5,547.2 L202.3,547.2" stroke="#111111" stroke-dasharray="6.5 6.8" stroke-dashoffset="2.1"/>
<path clip-path="url(#c3)" d="M40.6,310.2 L90.2,310.8 L106.0,312.5 L113.8,314.5 L118.0,316.5 L122.9,319.1 L132.1,320.4 L141.3,322.6 L149.2,323.7 L171.5,324.3 L174.1,327.6 L202.3,327.9" stroke="#16e416"/>
<path clip-path="url(#c3)" d="M40.6,309.9 L90.2,310.2 L92.8,312.5 L106.0,313.1 L108.6,315.8 L112.5,317.1 L115.0,317.7 L119.1,319.1 L124.2,321.7 L130.8,321.7 L134.7,323.9 L140.0,325.2 L143.2,328.2 L155.7,328.6 L158.4,330.0 L164.9,330.5 L166.9,331.3 L202.3,331.3" stroke="#1414dc"/>
<path clip-path="url(#c3)" d="M40.6,310.5 L54.7,312.5 L67.8,314.5 L87.6,318.1 L96.8,319.4 L107.3,320.0 L125.0,320.4 L202.3,320.4" stroke="#da16da"/>
</g>
<line x1="40.6" y1="538.14" x2="42.1" y2="538.14" stroke="#6e6e6e" stroke-width="0.8"/>
<line x1="200.8" y1="538.14" x2="202.3" y2="538.14" stroke="#6e6e6e" stroke-width="0.8"/>
<line x1="40.6" y1="522.16" x2="42.1" y2="522.16" stroke="#6e6e6e" stroke-width="0.8"/>
<line x1="200.8" y1="522.16" x2="202.3" y2="522.16" stroke="#6e6e6e" stroke-width="0.8"/>
<line x1="40.6" y1="506.18" x2="42.1" y2="506.18" stroke="#6e6e6e" stroke-width="0.8"/>
<line x1="200.8" y1="506.18" x2="202.3" y2="506.18" stroke="#6e6e6e" stroke-width="0.8"/>
<line x1="40.6" y1="474.22" x2="42.1" y2="474.22" stroke="#6e6e6e" stroke-width="0.8"/>
<line x1="200.8" y1="474.22" x2="202.3" y2="474.22" stroke="#6e6e6e" stroke-width="0.8"/>
<line x1="40.6" y1="458.24" x2="42.1" y2="458.24" stroke="#6e6e6e" stroke-width="0.8"/>
<line x1="200.8" y1="458.24" x2="202.3" y2="458.24" stroke="#6e6e6e" stroke-width="0.8"/>
<line x1="40.6" y1="442.26" x2="42.1" y2="442.26" stroke="#6e6e6e" stroke-width="0.8"/>
<line x1="200.8" y1="442.26" x2="202.3" y2="442.26" stroke="#6e6e6e" stroke-width="0.8"/>
<line x1="40.6" y1="426.28" x2="42.1" y2="426.28" stroke="#6e6e6e" stroke-width="0.8"/>
<line x1="200.8" y1="426.28" x2="202.3" y2="426.28" stroke="#6e6e6e" stroke-width="0.8"/>
<line x1="40.6" y1="394.32" x2="42.1" y2="394.32" stroke="#6e6e6e" stroke-width="0.8"/>
<line x1="200.8" y1="394.32" x2="202.3" y2="394.32" stroke="#6e6e6e" stroke-width="0.8"/>
<line x1="40.6" y1="378.34" x2="42.1" y2="378.34" stroke="#6e6e6e" stroke-width="0.8"/>
<line x1="200.8" y1="378.34" x2="202.3" y2="378.34" stroke="#6e6e6e" stroke-width="0.8"/>
<line x1="40.6" y1="362.36" x2="42.1" y2="362.36" stroke="#6e6e6e" stroke-width="0.8"/>
<line x1="200.8" y1="362.36" x2="202.3" y2="362.36" stroke="#6e6e6e" stroke-width="0.8"/>
<line x1="40.6" y1="346.38" x2="42.1" y2="346.38" stroke="#6e6e6e" stroke-width="0.8"/>
<line x1="200.8" y1="346.38" x2="202.3" y2="346.38" stroke="#6e6e6e" stroke-width="0.8"/>
<line x1="40.6" y1="314.42" x2="42.1" y2="314.42" stroke="#6e6e6e" stroke-width="0.8"/>
<line x1="200.8" y1="314.42" x2="202.3" y2="314.42" stroke="#6e6e6e" stroke-width="0.8"/>
<line x1="72.94" y1="547.4" x2="72.94" y2="545.4" stroke="#6e6e6e" stroke-width="0.8"/>
<line x1="72.94" y1="309.8" x2="72.94" y2="311.8" stroke="#6e6e6e" stroke-width="0.8"/>
<line x1="105.28" y1="547.4" x2="105.28" y2="545.4" stroke="#6e6e6e" stroke-width="0.8"/>
<line x1="105.28" y1="309.8" x2="105.28" y2="311.8" stroke="#6e6e6e" stroke-width="0.8"/>
<line x1="137.62" y1="547.4" x2="137.62" y2="545.4" stroke="#6e6e6e" stroke-width="0.8"/>
<line x1="137.62" y1="309.8" x2="137.62" y2="311.8" stroke="#6e6e6e" stroke-width="0.8"/>
<line x1="169.96" y1="547.4" x2="169.96" y2="545.4" stroke="#6e6e6e" stroke-width="0.8"/>
<line x1="169.96" y1="309.8" x2="169.96" y2="311.8" stroke="#6e6e6e" stroke-width="0.8"/>
<line x1="40.6" y1="330.40" x2="42.6" y2="330.40" stroke="#6e6e6e" stroke-width="0.8"/>
<line x1="202.3" y1="330.40" x2="200.3" y2="330.40" stroke="#6e6e6e" stroke-width="0.8"/>
<line x1="40.6" y1="410.30" x2="42.6" y2="410.30" stroke="#6e6e6e" stroke-width="0.8"/>
<line x1="202.3" y1="410.30" x2="200.3" y2="410.30" stroke="#6e6e6e" stroke-width="0.8"/>
<line x1="40.6" y1="490.20" x2="42.6" y2="490.20" stroke="#6e6e6e" stroke-width="0.8"/>
<line x1="202.3" y1="490.20" x2="200.3" y2="490.20" stroke="#6e6e6e" stroke-width="0.8"/>
<text x="72.94" y="560.3" text-anchor="middle" font-size="9.4" font-family="&quot;Liberation Sans&quot;, sans-serif" font-weight="bold" stroke="#1a1a1a" stroke-width="0.22" fill="#1a1a1a">100</text>
<text x="105.28" y="560.3" text-anchor="middle" font-size="9.4" font-family="&quot;Liberation Sans&quot;, sans-serif" font-weight="bold" stroke="#1a1a1a" stroke-width="0.22" fill="#1a1a1a">200</text>
<text x="137.62" y="560.3" text-anchor="middle" font-size="9.4" font-family="&quot;Liberation Sans&quot;, sans-serif" font-weight="bold" stroke="#1a1a1a" stroke-width="0.22" fill="#1a1a1a">300</text>
<text x="169.96" y="560.3" text-anchor="middle" font-size="9.4" font-family="&quot;Liberation Sans&quot;, sans-serif" font-weight="bold" stroke="#1a1a1a" stroke-width="0.22" fill="#1a1a1a">400</text>
<text x="202.30" y="560.3" text-anchor="middle" font-size="9.4" font-family="&quot;Liberation Sans&quot;, sans-serif" font-weight="bold" stroke="#1a1a1a" stroke-width="0.22" fill="#1a1a1a">500</text>
<text x="37.2" y="335.90" text-anchor="end" font-size="9.4" font-family="&quot;Liberation Sans&quot;, sans-serif" font-weight="bold" stroke="#1a1a1a" stroke-width="0.22" fill="#1a1a1a">10<tspan font-size="7.4" dx="0.5" dy="-4.5">0</tspan></text>
<text x="37.2" y="415.80" text-anchor="end" font-size="9.4" font-family="&quot;Liberation Sans&quot;, sans-serif" font-weight="bold" stroke="#1a1a1a" stroke-width="0.22" fill="#1a1a1a">10<tspan font-size="7.4" dx="0.5" dy="-4.5">-5</tspan></text>
<text x="37.2" y="495.70" text-anchor="end" font-size="9.4" font-family="&quot;Liberation Sans&quot;, sans-serif" font-weight="bold" stroke="#1a1a1a" stroke-width="0.22" fill="#1a1a1a">10<tspan font-size="7.4" dx="0.5" dy="-4.5">-10</tspan></text>
<text x="121.5" y="306.4" text-anchor="middle" font-size="10.5" font-family="&quot;Liberation Sans&quot;, sans-serif" font-weight="bold" stroke="#1a1a1a" stroke-width="0.22" fill="#1a1a1a">Objective space</text>
<text x="121.5" y="574.4" text-anchor="middle" font-size="10.5" font-family="&quot;Liberation Sans&quot;, sans-serif" font-weight="bold" stroke="#1a1a1a" stroke-width="0.22" fill="#1a1a1a">Iteration</text>
<text transform="translate(12.4 428.6) rotate(-90)" x="0" y="0" text-anchor="middle" font-size="10.5" font-family="&quot;Liberation Sans&quot;, sans-serif" font-weight="bold" stroke="#1a1a1a" stroke-width="0.22" fill="#1a1a1a">Best score obtained so far</text>
<rect x="216.9" y="310.4" width="15.9" height="236.9" fill="url(#parula)" stroke="#6e6e6e" stroke-width="0.8"/>
<text x="237.3" y="551.70" font-size="9" font-family="&quot;Liberation Sans&quot;, sans-serif" font-weight="bold" stroke="#1a1a1a" stroke-width="0.22" fill="#1a1a1a">0</text>
<line x1="230.8" y1="523.61" x2="232.8" y2="523.61" stroke="#6e6e6e" stroke-width="0.8"/>
<text x="237.3" y="528.01" font-size="9" font-family="&quot;Liberation Sans&quot;, sans-serif" font-weight="bold" stroke="#1a1a1a" stroke-width="0.22" fill="#1a1a1a">0.1</text>
<line x1="230.8" y1="499.92" x2="232.8" y2="499.92" stroke="#6e6e6e" stroke-width="0.8"/>
<text x="237.3" y="504.32" font-size="9" font-family="&quot;Liberation Sans&quot;, sans-serif" font-weight="bold" stroke="#1a1a1a" stroke-width="0.22" fill="#1a1a1a">0.2</text>
<line x1="230.8" y1="476.23" x2="232.8" y2="476.23" stroke="#6e6e6e" stroke-width="0.8"/>
<text x="237.3" y="480.63" font-size="9" font-family="&quot;Liberation Sans&quot;, sans-serif" font-weight="bold" stroke="#1a1a1a" stroke-width="0.22" fill="#1a1a1a">0.3</text>
<line x1="230.8" y1="452.54" x2="232.8" y2="452.54" stroke="#6e6e6e" stroke-width="0.8"/>
<text x="237.3" y="456.94" font-size="9" font-family="&quot;Liberation Sans&quot;, sans-serif" font-weight="bold" stroke="#1a1a1a" stroke-width="0.22" fill="#1a1a1a">0.4</text>
<line x1="230.8" y1="428.85" x2="232.8" y2="428.85" stroke="#6e6e6e" stroke-width="0.8"/>
<text x="237.3" y="433.25" font-size="9" font-family="&quot;Liberation Sans&quot;, sans-serif" font-weight="bold" stroke="#1a1a1a" stroke-width="0.22" fill="#1a1a1a">0.5</text>
<line x1="230.8" y1="405.16" x2="232.8" y2="405.16" stroke="#6e6e6e" stroke-width="0.8"/>
<text x="237.3" y="409.56" font-size="9" font-family="&quot;Liberation Sans&quot;, sans-serif" font-weight="bold" stroke="#1a1a1a" stroke-width="0.22" fill="#1a1a1a">0.6</text>
<line x1="230.8" y1="381.47" x2="232.8" y2="381.47" stroke="#6e6e6e" stroke-width="0.8"/>
<text x="237.3" y="385.87" font-size="9" font-family="&quot;Liberation Sans&quot;, sans-serif" font-weight="bold" stroke="#1a1a1a" stroke-width="0.22" fill="#1a1a1a">0.7</text>
<line x1="230.8" y1="357.78" x2="232.8" y2="357.78" stroke="#6e6e6e" stroke-width="0.8"/>
<text x="237.3" y="362.18" font-size="9" font-family="&quot;Liberation Sans&quot;, sans-serif" font-weight="bold" stroke="#1a1a1a" stroke-width="0.22" fill="#1a1a1a">0.8</text>
<line x1="230.8" y1="334.09" x2="232.8" y2="334.09" stroke="#6e6e6e" stroke-width="0.8"/>
<text x="237.3" y="338.49" font-size="9" font-family="&quot;Liberation Sans&quot;, sans-serif" font-weight="bold" stroke="#1a1a1a" stroke-width="0.22" fill="#1a1a1a">0.9</text>
<text x="237.3" y="314.80" font-size="9" font-family="&quot;Liberation Sans&quot;, sans-serif" font-weight="bold" stroke="#1a1a1a" stroke-width="0.22" fill="#1a1a1a">1</text>
<rect x="255.5" y="390.5" width="81.0" height="64.4" fill="#fff" stroke="#6e6e6e" stroke-width="0.8"/>
<line x1="258.5" y1="398.0" x2="292.6" y2="398.0" stroke="#dc1419" stroke-width="2"/>
<text x="295.6" y="401.9" font-size="9.1" font-family="&quot;Liberation Sans&quot;, sans-serif" font-weight="bold" stroke="#1a1a1a" stroke-width="0.22" fill="#1a1a1a">Chimp</text>
<line x1="258.5" y1="410.4" x2="292.6" y2="410.4" stroke="#111111" stroke-width="2" stroke-dasharray="7 6.3"/>
<text x="295.6" y="414.3" font-size="9.1" font-family="&quot;Liberation Sans&quot;, sans-serif" font-weight="bold" stroke="#1a1a1a" stroke-width="0.22" fill="#1a1a1a">SChoA</text>
<line x1="258.5" y1="422.8" x2="292.6" y2="422.8" stroke="#16e416" stroke-width="2"/>
<text x="295.6" y="426.7" font-size="9.1" font-family="&quot;Liberation Sans&quot;, sans-serif" font-weight="bold" stroke="#1a1a1a" stroke-width="0.22" fill="#1a1a1a">MPSO</text>
<line x1="258.5" y1="435.2" x2="292.6" y2="435.2" stroke="#1414dc" stroke-width="2"/>
<text x="295.6" y="439.1" font-size="9.1" font-family="&quot;Liberation Sans&quot;, sans-serif" font-weight="bold" stroke="#1a1a1a" stroke-width="0.22" fill="#1a1a1a">SCA</text>
<line x1="258.5" y1="447.6" x2="292.6" y2="447.6" stroke="#da16da" stroke-width="2"/>
<text x="295.6" y="451.5" font-size="9.1" font-family="&quot;Liberation Sans&quot;, sans-serif" font-weight="bold" stroke="#1a1a1a" stroke-width="0.22" fill="#1a1a1a">TACPSO</text>
<line x1="386.8" y1="522.88" x2="539.3" y2="522.88" stroke="#cbcbcb" stroke-width="0.8" stroke-dasharray="1 1.3"/>
<line x1="386.8" y1="510.26" x2="539.3" y2="510.26" stroke="#cbcbcb" stroke-width="0.8" stroke-dasharray="1 1.3"/>
<line x1="386.8" y1="497.64" x2="539.3" y2="497.64" stroke="#cbcbcb" stroke-width="0.8" stroke-dasharray="1 1.3"/>
<line x1="386.8" y1="485.02" x2="539.3" y2="485.02" stroke="#cbcbcb" stroke-width="0.8" stroke-dasharray="1 1.3"/>
<line x1="386.8" y1="459.78" x2="539.3" y2="459.78" stroke="#cbcbcb" stroke-width="0.8" stroke-dasharray="1 1.3"/>
<line x1="386.8" y1="447.16" x2="539.3" y2="447.16" stroke="#cbcbcb" stroke-width="0.8" stroke-dasharray="1 1.3"/>
<line x1="386.8" y1="434.54" x2="539.3" y2="434.54" stroke="#cbcbcb" stroke-width="0.8" stroke-dasharray="1 1.3"/>
<line x1="386.8" y1="421.92" x2="539.3" y2="421.92" stroke="#cbcbcb" stroke-width="0.8" stroke-dasharray="1 1.3"/>
<line x1="386.8" y1="396.68" x2="539.3" y2="396.68" stroke="#cbcbcb" stroke-width="0.8" stroke-dasharray="1 1.3"/>
<line x1="386.8" y1="384.06" x2="539.3" y2="384.06" stroke="#cbcbcb" stroke-width="0.8" stroke-dasharray="1 1.3"/>
<line x1="386.8" y1="371.44" x2="539.3" y2="371.44" stroke="#cbcbcb" stroke-width="0.8" stroke-dasharray="1 1.3"/>
<line x1="386.8" y1="358.82" x2="539.3" y2="358.82" stroke="#cbcbcb" stroke-width="0.8" stroke-dasharray="1 1.3"/>
<line x1="386.8" y1="333.58" x2="539.3" y2="333.58" stroke="#cbcbcb" stroke-width="0.8" stroke-dasharray="1 1.3"/>
<line x1="386.8" y1="320.96" x2="539.3" y2="320.96" stroke="#cbcbcb" stroke-width="0.8" stroke-dasharray="1 1.3"/>
<line x1="386.8" y1="346.20" x2="539.3" y2="346.20" stroke="#e2e2e2" stroke-width="1"/>
<line x1="386.8" y1="409.30" x2="539.3" y2="409.30" stroke="#e2e2e2" stroke-width="1"/>
<line x1="386.8" y1="472.40" x2="539.3" y2="472.40" stroke="#e2e2e2" stroke-width="1"/>
<line x1="386.8" y1="535.50" x2="539.3" y2="535.50" stroke="#e2e2e2" stroke-width="1"/>
<line x1="417.30" y1="309.8" x2="417.30" y2="547.0" stroke="#e2e2e2" stroke-width="1"/>
<line x1="447.80" y1="309.8" x2="447.80" y2="547.0" stroke="#e2e2e2" stroke-width="1"/>
<line x1="478.30" y1="309.8" x2="478.30" y2="547.0" stroke="#e2e2e2" stroke-width="1"/>
<line x1="508.80" y1="309.8" x2="508.80" y2="547.0" stroke="#e2e2e2" stroke-width="1"/>
<rect x="386.8" y="309.8" width="152.5" height="237.2" fill="none" stroke="#6e6e6e" stroke-width="1"/>
<g fill="none" stroke-width="2" stroke-linejoin="round" stroke-linecap="butt">
<clipPath id="c4"><rect x="385.8" y="308.3" width="154.5" height="240.2"/></clipPath>
<path clip-path="url(#c4)" d="M386.8,310.0 L451.9,310.0 L453.1,311.2 L457.7,312.3 L459.5,314.0 L465.0,314.0 L469.3,314.8 L473.6,320.4 L479.2,324.1 L482.3,330.3 L486.1,338.4 L491.0,344.0 L495.4,348.3 L497.2,352.0 L499.5,359.6 L501.9,371.6 L504.3,386.0 L506.7,396.8 L510.3,402.7 L515.1,407.5 L539.3,408.0" stroke="#dc1419"/>
<path clip-path="url(#c4)" d="M386.8,310.0 L393.5,317.0 L395.8,322.5 L400.5,328.5 L404.0,331.0 L407.5,335.5 L411.0,341.5 L415.7,344.5 L421.5,345.8 L429.7,350.3 L437.9,352.1 L444.9,353.2 L448.0,356.0 L449.6,362.6 L452.8,374.0 L455.2,388.4 L457.6,405.1 L461.2,429.1 L464.8,453.1 L468.4,477.1 L472.0,498.6 L475.6,520.2 L479.1,537.0 L480.8,548.0" stroke="#111111" stroke-dasharray="6.5 6.8" stroke-dashoffset="0.0"/>
<path clip-path="url(#c4)" d="M386.8,313.0 L404.0,314.7 L407.5,317.6 L421.5,317.6 L429.7,318.8 L434.4,321.7 L437.9,323.4 L446.1,326.4 L450.7,328.7 L455.4,331.6 L458.9,334.0 L463.0,336.9 L467.4,339.0 L474.9,340.8 L484.8,342.5 L493.5,345.2 L501.0,345.8 L507.2,347.7 L513.4,350.2 L518.3,351.1 L528.2,352.0 L530.7,354.9 L539.3,355.1" stroke="#16e416"/>
<path clip-path="url(#c4)" d="M386.8,310.0 L388.8,313.7 L430.9,313.7 L433.2,315.8 L442.6,316.8 L446.1,318.2 L449.6,320.5 L453.1,322.9 L455.4,325.2 L458.9,328.7 L463.7,329.7 L469.3,335.9 L476.1,337.1 L483.6,338.4 L486.1,340.2 L493.5,340.2 L497.2,342.5 L522.0,342.7 L527.0,343.3 L539.3,343.3" stroke="#1414dc"/>
<path clip-path="url(#c4)" d="M386.8,310.0 L387.4,319.9 L394.7,321.1 L404.0,322.3 L409.9,325.2 L414.5,328.7 L418.0,332.0 L426.2,334.0 L432.0,336.3 L436.7,338.0 L440.2,340.4 L448.4,342.1 L455.4,343.3 L460.0,344.0 L472.4,345.2 L484.8,346.2 L497.2,349.5 L509.6,352.0 L522.0,352.9 L539.3,353.6" stroke="#da16da"/>
</g>
<line x1="386.8" y1="522.88" x2="388.3" y2="522.88" stroke="#6e6e6e" stroke-width="0.8"/>
<line x1="537.8" y1="522.88" x2="539.3" y2="522.88" stroke="#6e6e6e" stroke-width="0.8"/>
<line x1="386.8" y1="510.26" x2="388.3" y2="510.26" stroke="#6e6e6e" stroke-width="0.8"/>
<line x1="537.8" y1="510.26" x2="539.3" y2="510.26" stroke="#6e6e6e" stroke-width="0.8"/>
<line x1="386.8" y1="497.64" x2="388.3" y2="497.64" stroke="#6e6e6e" stroke-width="0.8"/>
<line x1="537.8" y1="497.64" x2="539.3" y2="497.64" stroke="#6e6e6e" stroke-width="0.8"/>
<line x1="386.8" y1="485.02" x2="388.3" y2="485.02" stroke="#6e6e6e" stroke-width="0.8"/>
<line x1="537.8" y1="485.02" x2="539.3" y2="485.02" stroke="#6e6e6e" stroke-width="0.8"/>
<line x1="386.8" y1="459.78" x2="388.3" y2="459.78" stroke="#6e6e6e" stroke-width="0.8"/>
<line x1="537.8" y1="459.78" x2="539.3" y2="459.78" stroke="#6e6e6e" stroke-width="0.8"/>
<line x1="386.8" y1="447.16" x2="388.3" y2="447.16" stroke="#6e6e6e" stroke-width="0.8"/>
<line x1="537.8" y1="447.16" x2="539.3" y2="447.16" stroke="#6e6e6e" stroke-width="0.8"/>
<line x1="386.8" y1="434.54" x2="388.3" y2="434.54" stroke="#6e6e6e" stroke-width="0.8"/>
<line x1="537.8" y1="434.54" x2="539.3" y2="434.54" stroke="#6e6e6e" stroke-width="0.8"/>
<line x1="386.8" y1="421.92" x2="388.3" y2="421.92" stroke="#6e6e6e" stroke-width="0.8"/>
<line x1="537.8" y1="421.92" x2="539.3" y2="421.92" stroke="#6e6e6e" stroke-width="0.8"/>
<line x1="386.8" y1="396.68" x2="388.3" y2="396.68" stroke="#6e6e6e" stroke-width="0.8"/>
<line x1="537.8" y1="396.68" x2="539.3" y2="396.68" stroke="#6e6e6e" stroke-width="0.8"/>
<line x1="386.8" y1="384.06" x2="388.3" y2="384.06" stroke="#6e6e6e" stroke-width="0.8"/>
<line x1="537.8" y1="384.06" x2="539.3" y2="384.06" stroke="#6e6e6e" stroke-width="0.8"/>
<line x1="386.8" y1="371.44" x2="388.3" y2="371.44" stroke="#6e6e6e" stroke-width="0.8"/>
<line x1="537.8" y1="371.44" x2="539.3" y2="371.44" stroke="#6e6e6e" stroke-width="0.8"/>
<line x1="386.8" y1="358.82" x2="388.3" y2="358.82" stroke="#6e6e6e" stroke-width="0.8"/>
<line x1="537.8" y1="358.82" x2="539.3" y2="358.82" stroke="#6e6e6e" stroke-width="0.8"/>
<line x1="386.8" y1="333.58" x2="388.3" y2="333.58" stroke="#6e6e6e" stroke-width="0.8"/>
<line x1="537.8" y1="333.58" x2="539.3" y2="333.58" stroke="#6e6e6e" stroke-width="0.8"/>
<line x1="386.8" y1="320.96" x2="388.3" y2="320.96" stroke="#6e6e6e" stroke-width="0.8"/>
<line x1="537.8" y1="320.96" x2="539.3" y2="320.96" stroke="#6e6e6e" stroke-width="0.8"/>
<line x1="417.30" y1="547.0" x2="417.30" y2="545.0" stroke="#6e6e6e" stroke-width="0.8"/>
<line x1="417.30" y1="309.8" x2="417.30" y2="311.8" stroke="#6e6e6e" stroke-width="0.8"/>
<line x1="447.80" y1="547.0" x2="447.80" y2="545.0" stroke="#6e6e6e" stroke-width="0.8"/>
<line x1="447.80" y1="309.8" x2="447.80" y2="311.8" stroke="#6e6e6e" stroke-width="0.8"/>
<line x1="478.30" y1="547.0" x2="478.30" y2="545.0" stroke="#6e6e6e" stroke-width="0.8"/>
<line x1="478.30" y1="309.8" x2="478.30" y2="311.8" stroke="#6e6e6e" stroke-width="0.8"/>
<line x1="508.80" y1="547.0" x2="508.80" y2="545.0" stroke="#6e6e6e" stroke-width="0.8"/>
<line x1="508.80" y1="309.8" x2="508.80" y2="311.8" stroke="#6e6e6e" stroke-width="0.8"/>
<line x1="386.8" y1="346.20" x2="388.8" y2="346.20" stroke="#6e6e6e" stroke-width="0.8"/>
<line x1="539.3" y1="346.20" x2="537.3" y2="346.20" stroke="#6e6e6e" stroke-width="0.8"/>
<line x1="386.8" y1="409.30" x2="388.8" y2="409.30" stroke="#6e6e6e" stroke-width="0.8"/>
<line x1="539.3" y1="409.30" x2="537.3" y2="409.30" stroke="#6e6e6e" stroke-width="0.8"/>
<line x1="386.8" y1="472.40" x2="388.8" y2="472.40" stroke="#6e6e6e" stroke-width="0.8"/>
<line x1="539.3" y1="472.40" x2="537.3" y2="472.40" stroke="#6e6e6e" stroke-width="0.8"/>
<line x1="386.8" y1="535.50" x2="388.8" y2="535.50" stroke="#6e6e6e" stroke-width="0.8"/>
<line x1="539.3" y1="535.50" x2="537.3" y2="535.50" stroke="#6e6e6e" stroke-width="0.8"/>
<text x="417.30" y="559.9" text-anchor="middle" font-size="9.4" font-family="&quot;Liberation Sans&quot;, sans-serif" font-weight="bold" stroke="#1a1a1a" stroke-width="0.22" fill="#1a1a1a">100</text>
<text x="447.80" y="559.9" text-anchor="middle" font-size="9.4" font-family="&quot;Liberation Sans&quot;, sans-serif" font-weight="bold" stroke="#1a1a1a" stroke-width="0.22" fill="#1a1a1a">200</text>
<text x="478.30" y="559.9" text-anchor="middle" font-size="9.4" font-family="&quot;Liberation Sans&quot;, sans-serif" font-weight="bold" stroke="#1a1a1a" stroke-width="0.22" fill="#1a1a1a">300</text>
<text x="508.80" y="559.9" text-anchor="middle" font-size="9.4" font-family="&quot;Liberation Sans&quot;, sans-serif" font-weight="bold" stroke="#1a1a1a" stroke-width="0.22" fill="#1a1a1a">400</text>
<text x="539.30" y="559.9" text-anchor="middle" font-size="9.4" font-family="&quot;Liberation Sans&quot;, sans-serif" font-weight="bold" stroke="#1a1a1a" stroke-width="0.22" fill="#1a1a1a">500</text>
<text x="383.4" y="351.70" text-anchor="end" font-size="9.4" font-family="&quot;Liberation Sans&quot;, sans-serif" font-weight="bold" stroke="#1a1a1a" stroke-width="0.22" fill="#1a1a1a">10<tspan font-size="7.4" dx="0.5" dy="-4.5">0</tspan></text>
<text x="383.4" y="414.80" text-anchor="end" font-size="9.4" font-family="&quot;Liberation Sans&quot;, sans-serif" font-weight="bold" stroke="#1a1a1a" stroke-width="0.22" fill="#1a1a1a">10<tspan font-size="7.4" dx="0.5" dy="-4.5">-5</tspan></text>
<text x="383.4" y="477.90" text-anchor="end" font-size="9.4" font-family="&quot;Liberation Sans&quot;, sans-serif" font-weight="bold" stroke="#1a1a1a" stroke-width="0.22" fill="#1a1a1a">10<tspan font-size="7.4" dx="0.5" dy="-4.5">-10</tspan></text>
<text x="383.4" y="541.00" text-anchor="end" font-size="9.4" font-family="&quot;Liberation Sans&quot;, sans-serif" font-weight="bold" stroke="#1a1a1a" stroke-width="0.22" fill="#1a1a1a">10<tspan font-size="7.4" dx="0.5" dy="-4.5">-15</tspan></text>
<text x="463.0" y="306.4" text-anchor="middle" font-size="10.5" font-family="&quot;Liberation Sans&quot;, sans-serif" font-weight="bold" stroke="#1a1a1a" stroke-width="0.22" fill="#1a1a1a">Objective space</text>
<text x="463.0" y="574.0" text-anchor="middle" font-size="10.5" font-family="&quot;Liberation Sans&quot;, sans-serif" font-weight="bold" stroke="#1a1a1a" stroke-width="0.22" fill="#1a1a1a">Iteration</text>
<text transform="translate(357.7 428.4) rotate(-90)" x="0" y="0" text-anchor="middle" font-size="10.5" font-family="&quot;Liberation Sans&quot;, sans-serif" font-weight="bold" stroke="#1a1a1a" stroke-width="0.22" fill="#1a1a1a">Best score obtained so far</text>
<rect x="552.2" y="310.4" width="15.1" height="236.6" fill="url(#parula)" stroke="#6e6e6e" stroke-width="0.8"/>
<text x="571.8" y="551.40" font-size="9" font-family="&quot;Liberation Sans&quot;, sans-serif" font-weight="bold" stroke="#1a1a1a" stroke-width="0.22" fill="#1a1a1a">0</text>
<line x1="565.3" y1="523.34" x2="567.3" y2="523.34" stroke="#6e6e6e" stroke-width="0.8"/>
<text x="571.8" y="527.74" font-size="9" font-family="&quot;Liberation Sans&quot;, sans-serif" font-weight="bold" stroke="#1a1a1a" stroke-width="0.22" fill="#1a1a1a">0.1</text>
<line x1="565.3" y1="499.68" x2="567.3" y2="499.68" stroke="#6e6e6e" stroke-width="0.8"/>
<text x="571.8" y="504.08" font-size="9" font-family="&quot;Liberation Sans&quot;, sans-serif" font-weight="bold" stroke="#1a1a1a" stroke-width="0.22" fill="#1a1a1a">0.2</text>
<line x1="565.3" y1="476.02" x2="567.3" y2="476.02" stroke="#6e6e6e" stroke-width="0.8"/>
<text x="571.8" y="480.42" font-size="9" font-family="&quot;Liberation Sans&quot;, sans-serif" font-weight="bold" stroke="#1a1a1a" stroke-width="0.22" fill="#1a1a1a">0.3</text>
<line x1="565.3" y1="452.36" x2="567.3" y2="452.36" stroke="#6e6e6e" stroke-width="0.8"/>
<text x="571.8" y="456.76" font-size="9" font-family="&quot;Liberation Sans&quot;, sans-serif" font-weight="bold" stroke="#1a1a1a" stroke-width="0.22" fill="#1a1a1a">0.4</text>
<line x1="565.3" y1="428.70" x2="567.3" y2="428.70" stroke="#6e6e6e" stroke-width="0.8"/>
<text x="571.8" y="433.10" font-size="9" font-family="&quot;Liberation Sans&quot;, sans-serif" font-weight="bold" stroke="#1a1a1a" stroke-width="0.22" fill="#1a1a1a">0.5</text>
<line x1="565.3" y1="405.04" x2="567.3" y2="405.04" stroke="#6e6e6e" stroke-width="0.8"/>
<text x="571.8" y="409.44" font-size="9" font-family="&quot;Liberation Sans&quot;, sans-serif" font-weight="bold" stroke="#1a1a1a" stroke-width="0.22" fill="#1a1a1a">0.6</text>
<line x1="565.3" y1="381.38" x2="567.3" y2="381.38" stroke="#6e6e6e" stroke-width="0.8"/>
<text x="571.8" y="385.78" font-size="9" font-family="&quot;Liberation Sans&quot;, sans-serif" font-weight="bold" stroke="#1a1a1a" stroke-width="0.22" fill="#1a1a1a">0.7</text>
<line x1="565.3" y1="357.72" x2="567.3" y2="357.72" stroke="#6e6e6e" stroke-width="0.8"/>
<text x="571.8" y="362.12" font-size="9" font-family="&quot;Liberation Sans&quot;, sans-serif" font-weight="bold" stroke="#1a1a1a" stroke-width="0.22" fill="#1a1a1a">0.8</text>
<line x1="565.3" y1="334.06" x2="567.3" y2="334.06" stroke="#6e6e6e" stroke-width="0.8"/>
<text x="571.8" y="338.46" font-size="9" font-family="&quot;Liberation Sans&quot;, sans-serif" font-weight="bold" stroke="#1a1a1a" stroke-width="0.22" fill="#1a1a1a">0.9</text>
<text x="571.8" y="314.80" font-size="9" font-family="&quot;Liberation Sans&quot;, sans-serif" font-weight="bold" stroke="#1a1a1a" stroke-width="0.22" fill="#1a1a1a">1</text>
<rect x="593.8" y="396.2" width="80.6" height="64.4" fill="#fff" stroke="#6e6e6e" stroke-width="0.8"/>
<line x1="596.8" y1="403.6" x2="630.2" y2="403.6" stroke="#dc1419" stroke-width="2"/>
<text x="633.6" y="407.5" font-size="9.1" font-family="&quot;Liberation Sans&quot;, sans-serif" font-weight="bold" stroke="#1a1a1a" stroke-width="0.22" fill="#1a1a1a">Chimp</text>
<line x1="596.8" y1="416.0" x2="630.2" y2="416.0" stroke="#111111" stroke-width="2" stroke-dasharray="7 6.3"/>
<text x="633.6" y="419.9" font-size="9.1" font-family="&quot;Liberation Sans&quot;, sans-serif" font-weight="bold" stroke="#1a1a1a" stroke-width="0.22" fill="#1a1a1a">SChoA</text>
<line x1="596.8" y1="428.5" x2="630.2" y2="428.5" stroke="#16e416" stroke-width="2"/>
<text x="633.6" y="432.4" font-size="9.1" font-family="&quot;Liberation Sans&quot;, sans-serif" font-weight="bold" stroke="#1a1a1a" stroke-width="0.22" fill="#1a1a1a">MPSO</text>
<line x1="596.8" y1="440.9" x2="630.2" y2="440.9" stroke="#1414dc" stroke-width="2"/>
<text x="633.6" y="444.8" font-size="9.1" font-family="&quot;Liberation Sans&quot;, sans-serif" font-weight="bold" stroke="#1a1a1a" stroke-width="0.22" fill="#1a1a1a">SCA</text>
<line x1="596.8" y1="453.2" x2="630.2" y2="453.2" stroke="#da16da" stroke-width="2"/>
<text x="633.6" y="457.1" font-size="9.1" font-family="&quot;Liberation Sans&quot;, sans-serif" font-weight="bold" stroke="#1a1a1a" stroke-width="0.22" fill="#1a1a1a">TACPSO</text>
<line x1="42.4" y1="835.09" x2="195.2" y2="835.09" stroke="#cbcbcb" stroke-width="0.8" stroke-dasharray="1 1.3"/>
<line x1="42.4" y1="830.83" x2="195.2" y2="830.83" stroke="#cbcbcb" stroke-width="0.8" stroke-dasharray="1 1.3"/>
<line x1="42.4" y1="827.81" x2="195.2" y2="827.81" stroke="#cbcbcb" stroke-width="0.8" stroke-dasharray="1 1.3"/>
<line x1="42.4" y1="825.47" x2="195.2" y2="825.47" stroke="#cbcbcb" stroke-width="0.8" stroke-dasharray="1 1.3"/>
<line x1="42.4" y1="823.56" x2="195.2" y2="823.56" stroke="#cbcbcb" stroke-width="0.8" stroke-dasharray="1 1.3"/>
<line x1="42.4" y1="821.94" x2="195.2" y2="821.94" stroke="#cbcbcb" stroke-width="0.8" stroke-dasharray="1 1.3"/>
<line x1="42.4" y1="820.54" x2="195.2" y2="820.54" stroke="#cbcbcb" stroke-width="0.8" stroke-dasharray="1 1.3"/>
<line x1="42.4" y1="819.31" x2="195.2" y2="819.31" stroke="#cbcbcb" stroke-width="0.8" stroke-dasharray="1 1.3"/>
<line x1="42.4" y1="810.93" x2="195.2" y2="810.93" stroke="#cbcbcb" stroke-width="0.8" stroke-dasharray="1 1.3"/>
<line x1="42.4" y1="806.67" x2="195.2" y2="806.67" stroke="#cbcbcb" stroke-width="0.8" stroke-dasharray="1 1.3"/>
<line x1="42.4" y1="803.65" x2="195.2" y2="803.65" stroke="#cbcbcb" stroke-width="0.8" stroke-dasharray="1 1.3"/>
<line x1="42.4" y1="801.31" x2="195.2" y2="801.31" stroke="#cbcbcb" stroke-width="0.8" stroke-dasharray="1 1.3"/>
<line x1="42.4" y1="799.40" x2="195.2" y2="799.40" stroke="#cbcbcb" stroke-width="0.8" stroke-dasharray="1 1.3"/>
<line x1="42.4" y1="797.78" x2="195.2" y2="797.78" stroke="#cbcbcb" stroke-width="0.8" stroke-dasharray="1 1.3"/>
<line x1="42.4" y1="796.38" x2="195.2" y2="796.38" stroke="#cbcbcb" stroke-width="0.8" stroke-dasharray="1 1.3"/>
<line x1="42.4" y1="795.15" x2="195.2" y2="795.15" stroke="#cbcbcb" stroke-width="0.8" stroke-dasharray="1 1.3"/>
<line x1="42.4" y1="794.04" x2="195.2" y2="794.04" stroke="#cbcbcb" stroke-width="0.8" stroke-dasharray="1 1.3"/>
<line x1="42.4" y1="786.77" x2="195.2" y2="786.77" stroke="#cbcbcb" stroke-width="0.8" stroke-dasharray="1 1.3"/>
<line x1="42.4" y1="782.51" x2="195.2" y2="782.51" stroke="#cbcbcb" stroke-width="0.8" stroke-dasharray="1 1.3"/>
<line x1="42.4" y1="779.49" x2="195.2" y2="779.49" stroke="#cbcbcb" stroke-width="0.8" stroke-dasharray="1 1.3"/>
<line x1="42.4" y1="777.15" x2="195.2" y2="777.15" stroke="#cbcbcb" stroke-width="0.8" stroke-dasharray="1 1.3"/>
<line x1="42.4" y1="775.24" x2="195.2" y2="775.24" stroke="#cbcbcb" stroke-width="0.8" stroke-dasharray="1 1.3"/>
<line x1="42.4" y1="773.62" x2="195.2" y2="773.62" stroke="#cbcbcb" stroke-width="0.8" stroke-dasharray="1 1.3"/>
<line x1="42.4" y1="772.22" x2="195.2" y2="772.22" stroke="#cbcbcb" stroke-width="0.8" stroke-dasharray="1 1.3"/>
<line x1="42.4" y1="770.99" x2="195.2" y2="770.99" stroke="#cbcbcb" stroke-width="0.8" stroke-dasharray="1 1.3"/>
<line x1="42.4" y1="762.61" x2="195.2" y2="762.61" stroke="#cbcbcb" stroke-width="0.8" stroke-dasharray="1 1.3"/>
<line x1="42.4" y1="758.35" x2="195.2" y2="758.35" stroke="#cbcbcb" stroke-width="0.8" stroke-dasharray="1 1.3"/>
<line x1="42.4" y1="755.33" x2="195.2" y2="755.33" stroke="#cbcbcb" stroke-width="0.8" stroke-dasharray="1 1.3"/>
<line x1="42.4" y1="752.99" x2="195.2" y2="752.99" stroke="#cbcbcb" stroke-width="0.8" stroke-dasharray="1 1.3"/>
<line x1="42.4" y1="751.08" x2="195.2" y2="751.08" stroke="#cbcbcb" stroke-width="0.8" stroke-dasharray="1 1.3"/>
<line x1="42.4" y1="749.46" x2="195.2" y2="749.46" stroke="#cbcbcb" stroke-width="0.8" stroke-dasharray="1 1.3"/>
<line x1="42.4" y1="748.06" x2="195.2" y2="748.06" stroke="#cbcbcb" stroke-width="0.8" stroke-dasharray="1 1.3"/>
<line x1="42.4" y1="746.83" x2="195.2" y2="746.83" stroke="#cbcbcb" stroke-width="0.8" stroke-dasharray="1 1.3"/>
<line x1="42.4" y1="745.72" x2="195.2" y2="745.72" stroke="#cbcbcb" stroke-width="0.8" stroke-dasharray="1 1.3"/>
<line x1="42.4" y1="738.45" x2="195.2" y2="738.45" stroke="#cbcbcb" stroke-width="0.8" stroke-dasharray="1 1.3"/>
<line x1="42.4" y1="734.19" x2="195.2" y2="734.19" stroke="#cbcbcb" stroke-width="0.8" stroke-dasharray="1 1.3"/>
<line x1="42.4" y1="731.17" x2="195.2" y2="731.17" stroke="#cbcbcb" stroke-width="0.8" stroke-dasharray="1 1.3"/>
<line x1="42.4" y1="728.83" x2="195.2" y2="728.83" stroke="#cbcbcb" stroke-width="0.8" stroke-dasharray="1 1.3"/>
<line x1="42.4" y1="726.92" x2="195.2" y2="726.92" stroke="#cbcbcb" stroke-width="0.8" stroke-dasharray="1 1.3"/>
<line x1="42.4" y1="725.30" x2="195.2" y2="725.30" stroke="#cbcbcb" stroke-width="0.8" stroke-dasharray="1 1.3"/>
<line x1="42.4" y1="723.90" x2="195.2" y2="723.90" stroke="#cbcbcb" stroke-width="0.8" stroke-dasharray="1 1.3"/>
<line x1="42.4" y1="722.67" x2="195.2" y2="722.67" stroke="#cbcbcb" stroke-width="0.8" stroke-dasharray="1 1.3"/>
<line x1="42.4" y1="714.29" x2="195.2" y2="714.29" stroke="#cbcbcb" stroke-width="0.8" stroke-dasharray="1 1.3"/>
<line x1="42.4" y1="710.03" x2="195.2" y2="710.03" stroke="#cbcbcb" stroke-width="0.8" stroke-dasharray="1 1.3"/>
<line x1="42.4" y1="707.01" x2="195.2" y2="707.01" stroke="#cbcbcb" stroke-width="0.8" stroke-dasharray="1 1.3"/>
<line x1="42.4" y1="704.67" x2="195.2" y2="704.67" stroke="#cbcbcb" stroke-width="0.8" stroke-dasharray="1 1.3"/>
<line x1="42.4" y1="702.76" x2="195.2" y2="702.76" stroke="#cbcbcb" stroke-width="0.8" stroke-dasharray="1 1.3"/>
<line x1="42.4" y1="701.14" x2="195.2" y2="701.14" stroke="#cbcbcb" stroke-width="0.8" stroke-dasharray="1 1.3"/>
<line x1="42.4" y1="699.74" x2="195.2" y2="699.74" stroke="#cbcbcb" stroke-width="0.8" stroke-dasharray="1 1.3"/>
<line x1="42.4" y1="698.51" x2="195.2" y2="698.51" stroke="#cbcbcb" stroke-width="0.8" stroke-dasharray="1 1.3"/>
<line x1="42.4" y1="697.40" x2="195.2" y2="697.40" stroke="#cbcbcb" stroke-width="0.8" stroke-dasharray="1 1.3"/>
<line x1="42.4" y1="690.13" x2="195.2" y2="690.13" stroke="#cbcbcb" stroke-width="0.8" stroke-dasharray="1 1.3"/>
<line x1="42.4" y1="685.87" x2="195.2" y2="685.87" stroke="#cbcbcb" stroke-width="0.8" stroke-dasharray="1 1.3"/>
<line x1="42.4" y1="682.85" x2="195.2" y2="682.85" stroke="#cbcbcb" stroke-width="0.8" stroke-dasharray="1 1.3"/>
<line x1="42.4" y1="680.51" x2="195.2" y2="680.51" stroke="#cbcbcb" stroke-width="0.8" stroke-dasharray="1 1.3"/>
<line x1="42.4" y1="678.60" x2="195.2" y2="678.60" stroke="#cbcbcb" stroke-width="0.8" stroke-dasharray="1 1.3"/>
<line x1="42.4" y1="676.98" x2="195.2" y2="676.98" stroke="#cbcbcb" stroke-width="0.8" stroke-dasharray="1 1.3"/>
<line x1="42.4" y1="675.58" x2="195.2" y2="675.58" stroke="#cbcbcb" stroke-width="0.8" stroke-dasharray="1 1.3"/>
<line x1="42.4" y1="674.35" x2="195.2" y2="674.35" stroke="#cbcbcb" stroke-width="0.8" stroke-dasharray="1 1.3"/>
<line x1="42.4" y1="665.97" x2="195.2" y2="665.97" stroke="#cbcbcb" stroke-width="0.8" stroke-dasharray="1 1.3"/>
<line x1="42.4" y1="661.71" x2="195.2" y2="661.71" stroke="#cbcbcb" stroke-width="0.8" stroke-dasharray="1 1.3"/>
<line x1="42.4" y1="658.69" x2="195.2" y2="658.69" stroke="#cbcbcb" stroke-width="0.8" stroke-dasharray="1 1.3"/>
<line x1="42.4" y1="656.35" x2="195.2" y2="656.35" stroke="#cbcbcb" stroke-width="0.8" stroke-dasharray="1 1.3"/>
<line x1="42.4" y1="654.44" x2="195.2" y2="654.44" stroke="#cbcbcb" stroke-width="0.8" stroke-dasharray="1 1.3"/>
<line x1="42.4" y1="652.82" x2="195.2" y2="652.82" stroke="#cbcbcb" stroke-width="0.8" stroke-dasharray="1 1.3"/>
<line x1="42.4" y1="651.42" x2="195.2" y2="651.42" stroke="#cbcbcb" stroke-width="0.8" stroke-dasharray="1 1.3"/>
<line x1="42.4" y1="650.19" x2="195.2" y2="650.19" stroke="#cbcbcb" stroke-width="0.8" stroke-dasharray="1 1.3"/>
<line x1="42.4" y1="649.08" x2="195.2" y2="649.08" stroke="#cbcbcb" stroke-width="0.8" stroke-dasharray="1 1.3"/>
<line x1="42.4" y1="641.81" x2="195.2" y2="641.81" stroke="#cbcbcb" stroke-width="0.8" stroke-dasharray="1 1.3"/>
<line x1="42.4" y1="637.55" x2="195.2" y2="637.55" stroke="#cbcbcb" stroke-width="0.8" stroke-dasharray="1 1.3"/>
<line x1="42.4" y1="634.53" x2="195.2" y2="634.53" stroke="#cbcbcb" stroke-width="0.8" stroke-dasharray="1 1.3"/>
<line x1="42.4" y1="632.19" x2="195.2" y2="632.19" stroke="#cbcbcb" stroke-width="0.8" stroke-dasharray="1 1.3"/>
<line x1="42.4" y1="630.28" x2="195.2" y2="630.28" stroke="#cbcbcb" stroke-width="0.8" stroke-dasharray="1 1.3"/>
<line x1="42.4" y1="628.66" x2="195.2" y2="628.66" stroke="#cbcbcb" stroke-width="0.8" stroke-dasharray="1 1.3"/>
<line x1="42.4" y1="627.26" x2="195.2" y2="627.26" stroke="#cbcbcb" stroke-width="0.8" stroke-dasharray="1 1.3"/>
<line x1="42.4" y1="626.03" x2="195.2" y2="626.03" stroke="#cbcbcb" stroke-width="0.8" stroke-dasharray="1 1.3"/>
<line x1="42.4" y1="617.65" x2="195.2" y2="617.65" stroke="#cbcbcb" stroke-width="0.8" stroke-dasharray="1 1.3"/>
<line x1="42.4" y1="613.39" x2="195.2" y2="613.39" stroke="#cbcbcb" stroke-width="0.8" stroke-dasharray="1 1.3"/>
<line x1="42.4" y1="610.37" x2="195.2" y2="610.37" stroke="#cbcbcb" stroke-width="0.8" stroke-dasharray="1 1.3"/>
<line x1="42.4" y1="608.03" x2="195.2" y2="608.03" stroke="#cbcbcb" stroke-width="0.8" stroke-dasharray="1 1.3"/>
<line x1="42.4" y1="606.12" x2="195.2" y2="606.12" stroke="#cbcbcb" stroke-width="0.8" stroke-dasharray="1 1.3"/>
<line x1="42.4" y1="818.20" x2="195.2" y2="818.20" stroke="#e2e2e2" stroke-width="1"/>
<line x1="42.4" y1="769.88" x2="195.2" y2="769.88" stroke="#e2e2e2" stroke-width="1"/>
<line x1="42.4" y1="721.56" x2="195.2" y2="721.56" stroke="#e2e2e2" stroke-width="1"/>
<line x1="42.4" y1="673.24" x2="195.2" y2="673.24" stroke="#e2e2e2" stroke-width="1"/>
<line x1="42.4" y1="624.92" x2="195.2" y2="624.92" stroke="#e2e2e2" stroke-width="1"/>
<line x1="72.96" y1="604.7" x2="72.96" y2="842.5" stroke="#e2e2e2" stroke-width="1"/>
<line x1="103.52" y1="604.7" x2="103.52" y2="842.5" stroke="#e2e2e2" stroke-width="1"/>
<line x1="134.08" y1="604.7" x2="134.08" y2="842.5" stroke="#e2e2e2" stroke-width="1"/>
<line x1="164.64" y1="604.7" x2="164.64" y2="842.5" stroke="#e2e2e2" stroke-width="1"/>
<rect x="42.4" y="604.7" width="152.8" height="237.8" fill="none" stroke="#6e6e6e" stroke-width="1"/>
<g fill="none" stroke-width="2" stroke-linejoin="round" stroke-linecap="butt">
<clipPath id="c5"><rect x="41.4" y="603.2" width="154.8" height="240.8"/></clipPath>
<path clip-path="url(#c5)" d="M42.4,605.0 L43.0,608.5 L94.5,608.5 L95.8,609.2 L116.8,609.5 L119.5,610.5 L126.4,610.8 L127.1,618.4 L134.3,618.8 L136.9,623.6 L138.2,637.4 L139.6,650.6 L141.5,661.1 L142.3,680.0 L142.9,705.2 L144.8,709.1 L145.8,757.6 L146.8,810.0 L148.1,821.7 L150.1,829.4 L195.2,830.0" stroke="#dc1419"/>
<path clip-path="url(#c5)" d="M42.4,604.8 L43.7,611.0 L44.5,620.0 L45.5,626.0 L47.0,630.0 L49.5,633.5 L51.0,638.0 L52.3,646.0 L53.4,652.0 L54.0,657.0 L54.2,665.0 L56.3,665.5 L56.6,670.0 L56.6,682.0 L57.1,707.6 L58.4,714.2 L59.0,732.6 L59.7,748.3 L60.4,774.5 L61.0,781.0 L65.0,783.0 L67.6,790.2 L70.2,794.2 L71.5,800.7 L72.2,806.6 L75.5,815.2 L79.4,823.1 L82.0,825.7 L88.6,828.3 L92.6,831.0 L97.8,832.9 L105.7,833.6 L112.3,834.6 L116.2,835.9 L122.8,837.8 L130.0,838.2 L135.5,839.7 L195.2,842.0" stroke="#111111" stroke-dasharray="6.5 6.8" stroke-dashoffset="5.3"/>
<path clip-path="url(#c5)" d="M42.4,605.0 L43.3,614.4 L72.2,614.4 L76.1,617.7 L78.7,618.4 L82.7,621.7 L87.9,624.3 L89.9,634.8 L94.5,640.0 L96.5,647.9 L99.1,658.4 L100.4,672.9 L106.3,673.5 L109.0,682.1 L111.6,690.5 L114.2,702.3 L116.8,716.8 L118.8,724.7 L122.1,735.2 L124.1,749.6 L125.4,761.5 L126.1,775.8 L126.8,779.0 L131.6,786.7 L139.4,790.6 L147.2,796.4 L158.8,799.3 L174.3,800.7 L195.2,800.7" stroke="#16e416"/>
<path clip-path="url(#c5)" d="M42.4,604.8 L110.3,604.8 L112.2,608.5 L113.5,622.3 L123.6,623.0 L125.8,628.9 L128.4,632.2 L129.7,634.8 L129.7,676.8 L132.3,679.5 L134.3,683.6 L140.4,685.0 L141.3,711.0 L143.3,714.9 L143.3,784.8 L148.1,785.8 L151.0,790.6 L195.2,790.6" stroke="#1414dc"/>
<path clip-path="url(#c5)" d="M42.4,604.8 L43.0,653.2 L46.5,655.8 L48.5,662.4 L52.5,667.6 L54.4,672.9 L55.7,680.8 L57.7,682.6 L65.6,685.3 L67.6,689.2 L72.2,693.1 L74.1,699.7 L76.1,710.2 L78.7,718.1 L80.7,726.0 L82.0,735.2 L84.6,739.1 L86.6,749.6 L87.3,758.8 L88.0,766.6 L88.6,777.1 L91.2,781.0 L93.9,785.6 L96.5,787.6 L100.4,790.9 L105.7,794.2 L112.3,797.4 L118.8,800.1 L131.6,802.6 L139.4,806.1 L149.1,808.1 L158.8,809.0 L180.2,811.0 L183.1,812.9 L195.2,812.9" stroke="#da16da"/>
</g>
<line x1="42.4" y1="835.09" x2="43.9" y2="835.09" stroke="#6e6e6e" stroke-width="0.8"/>
<line x1="193.7" y1="835.09" x2="195.2" y2="835.09" stroke="#6e6e6e" stroke-width="0.8"/>
<line x1="42.4" y1="830.83" x2="43.9" y2="830.83" stroke="#6e6e6e" stroke-width="0.8"/>
<line x1="193.7" y1="830.83" x2="195.2" y2="830.83" stroke="#6e6e6e" stroke-width="0.8"/>
<line x1="42.4" y1="827.81" x2="43.9" y2="827.81" stroke="#6e6e6e" stroke-width="0.8"/>
<line x1="193.7" y1="827.81" x2="195.2" y2="827.81" stroke="#6e6e6e" stroke-width="0.8"/>
<line x1="42.4" y1="825.47" x2="43.9" y2="825.47" stroke="#6e6e6e" stroke-width="0.8"/>
<line x1="193.7" y1="825.47" x2="195.2" y2="825.47" stroke="#6e6e6e" stroke-width="0.8"/>
<line x1="42.4" y1="823.56" x2="43.9" y2="823.56" stroke="#6e6e6e" stroke-width="0.8"/>
<line x1="193.7" y1="823.56" x2="195.2" y2="823.56" stroke="#6e6e6e" stroke-width="0.8"/>
<line x1="42.4" y1="821.94" x2="43.9" y2="821.94" stroke="#6e6e6e" stroke-width="0.8"/>
<line x1="193.7" y1="821.94" x2="195.2" y2="821.94" stroke="#6e6e6e" stroke-width="0.8"/>
<line x1="42.4" y1="820.54" x2="43.9" y2="820.54" stroke="#6e6e6e" stroke-width="0.8"/>
<line x1="193.7" y1="820.54" x2="195.2" y2="820.54" stroke="#6e6e6e" stroke-width="0.8"/>
<line x1="42.4" y1="819.31" x2="43.9" y2="819.31" stroke="#6e6e6e" stroke-width="0.8"/>
<line x1="193.7" y1="819.31" x2="195.2" y2="819.31" stroke="#6e6e6e" stroke-width="0.8"/>
<line x1="42.4" y1="810.93" x2="43.9" y2="810.93" stroke="#6e6e6e" stroke-width="0.8"/>
<line x1="193.7" y1="810.93" x2="195.2" y2="810.93" stroke="#6e6e6e" stroke-width="0.8"/>
<line x1="42.4" y1="806.67" x2="43.9" y2="806.67" stroke="#6e6e6e" stroke-width="0.8"/>
<line x1="193.7" y1="806.67" x2="195.2" y2="806.67" stroke="#6e6e6e" stroke-width="0.8"/>
<line x1="42.4" y1="803.65" x2="43.9" y2="803.65" stroke="#6e6e6e" stroke-width="0.8"/>
<line x1="193.7" y1="803.65" x2="195.2" y2="803.65" stroke="#6e6e6e" stroke-width="0.8"/>
<line x1="42.4" y1="801.31" x2="43.9" y2="801.31" stroke="#6e6e6e" stroke-width="0.8"/>
<line x1="193.7" y1="801.31" x2="195.2" y2="801.31" stroke="#6e6e6e" stroke-width="0.8"/>
<line x1="42.4" y1="799.40" x2="43.9" y2="799.40" stroke="#6e6e6e" stroke-width="0.8"/>
<line x1="193.7" y1="799.40" x2="195.2" y2="799.40" stroke="#6e6e6e" stroke-width="0.8"/>
<line x1="42.4" y1="797.78" x2="43.9" y2="797.78" stroke="#6e6e6e" stroke-width="0.8"/>
<line x1="193.7" y1="797.78" x2="195.2" y2="797.78" stroke="#6e6e6e" stroke-width="0.8"/>
<line x1="42.4" y1="796.38" x2="43.9" y2="796.38" stroke="#6e6e6e" stroke-width="0.8"/>
<line x1="193.7" y1="796.38" x2="195.2" y2="796.38" stroke="#6e6e6e" stroke-width="0.8"/>
<line x1="42.4" y1="795.15" x2="43.9" y2="795.15" stroke="#6e6e6e" stroke-width="0.8"/>
<line x1="193.7" y1="795.15" x2="195.2" y2="795.15" stroke="#6e6e6e" stroke-width="0.8"/>
<line x1="42.4" y1="794.04" x2="43.9" y2="794.04" stroke="#6e6e6e" stroke-width="0.8"/>
<line x1="193.7" y1="794.04" x2="195.2" y2="794.04" stroke="#6e6e6e" stroke-width="0.8"/>
<line x1="42.4" y1="786.77" x2="43.9" y2="786.77" stroke="#6e6e6e" stroke-width="0.8"/>
<line x1="193.7" y1="786.77" x2="195.2" y2="786.77" stroke="#6e6e6e" stroke-width="0.8"/>
<line x1="42.4" y1="782.51" x2="43.9" y2="782.51" stroke="#6e6e6e" stroke-width="0.8"/>
<line x1="193.7" y1="782.51" x2="195.2" y2="782.51" stroke="#6e6e6e" stroke-width="0.8"/>
<line x1="42.4" y1="779.49" x2="43.9" y2="779.49" stroke="#6e6e6e" stroke-width="0.8"/>
<line x1="193.7" y1="779.49" x2="195.2" y2="779.49" stroke="#6e6e6e" stroke-width="0.8"/>
<line x1="42.4" y1="777.15" x2="43.9" y2="777.15" stroke="#6e6e6e" stroke-width="0.8"/>
<line x1="193.7" y1="777.15" x2="195.2" y2="777.15" stroke="#6e6e6e" stroke-width="0.8"/>
<line x1="42.4" y1="775.24" x2="43.9" y2="775.24" stroke="#6e6e6e" stroke-width="0.8"/>
<line x1="193.7" y1="775.24" x2="195.2" y2="775.24" stroke="#6e6e6e" stroke-width="0.8"/>
<line x1="42.4" y1="773.62" x2="43.9" y2="773.62" stroke="#6e6e6e" stroke-width="0.8"/>
<line x1="193.7" y1="773.62" x2="195.2" y2="773.62" stroke="#6e6e6e" stroke-width="0.8"/>
<line x1="42.4" y1="772.22" x2="43.9" y2="772.22" stroke="#6e6e6e" stroke-width="0.8"/>
<line x1="193.7" y1="772.22" x2="195.2" y2="772.22" stroke="#6e6e6e" stroke-width="0.8"/>
<line x1="42.4" y1="770.99" x2="43.9" y2="770.99" stroke="#6e6e6e" stroke-width="0.8"/>
<line x1="193.7" y1="770.99" x2="195.2" y2="770.99" stroke="#6e6e6e" stroke-width="0.8"/>
<line x1="42.4" y1="762.61" x2="43.9" y2="762.61" stroke="#6e6e6e" stroke-width="0.8"/>
<line x1="193.7" y1="762.61" x2="195.2" y2="762.61" stroke="#6e6e6e" stroke-width="0.8"/>
<line x1="42.4" y1="758.35" x2="43.9" y2="758.35" stroke="#6e6e6e" stroke-width="0.8"/>
<line x1="193.7" y1="758.35" x2="195.2" y2="758.35" stroke="#6e6e6e" stroke-width="0.8"/>
<line x1="42.4" y1="755.33" x2="43.9" y2="755.33" stroke="#6e6e6e" stroke-width="0.8"/>
<line x1="193.7" y1="755.33" x2="195.2" y2="755.33" stroke="#6e6e6e" stroke-width="0.8"/>
<line x1="42.4" y1="752.99" x2="43.9" y2="752.99" stroke="#6e6e6e" stroke-width="0.8"/>
<line x1="193.7" y1="752.99" x2="195.2" y2="752.99" stroke="#6e6e6e" stroke-width="0.8"/>
<line x1="42.4" y1="751.08" x2="43.9" y2="751.08" stroke="#6e6e6e" stroke-width="0.8"/>
<line x1="193.7" y1="751.08" x2="195.2" y2="751.08" stroke="#6e6e6e" stroke-width="0.8"/>
<line x1="42.4" y1="749.46" x2="43.9" y2="749.46" stroke="#6e6e6e" stroke-width="0.8"/>
<line x1="193.7" y1="749.46" x2="195.2" y2="749.46" stroke="#6e6e6e" stroke-width="0.8"/>
<line x1="42.4" y1="748.06" x2="43.9" y2="748.06" stroke="#6e6e6e" stroke-width="0.8"/>
<line x1="193.7" y1="748.06" x2="195.2" y2="748.06" stroke="#6e6e6e" stroke-width="0.8"/>
<line x1="42.4" y1="746.83" x2="43.9" y2="746.83" stroke="#6e6e6e" stroke-width="0.8"/>
<line x1="193.7" y1="746.83" x2="195.2" y2="746.83" stroke="#6e6e6e" stroke-width="0.8"/>
<line x1="42.4" y1="745.72" x2="43.9" y2="745.72" stroke="#6e6e6e" stroke-width="0.8"/>
<line x1="193.7" y1="745.72" x2="195.2" y2="745.72" stroke="#6e6e6e" stroke-width="0.8"/>
<line x1="42.4" y1="738.45" x2="43.9" y2="738.45" stroke="#6e6e6e" stroke-width="0.8"/>
<line x1="193.7" y1="738.45" x2="195.2" y2="738.45" stroke="#6e6e6e" stroke-width="0.8"/>
<line x1="42.4" y1="734.19" x2="43.9" y2="734.19" stroke="#6e6e6e" stroke-width="0.8"/>
<line x1="193.7" y1="734.19" x2="195.2" y2="734.19" stroke="#6e6e6e" stroke-width="0.8"/>
<line x1="42.4" y1="731.17" x2="43.9" y2="731.17" stroke="#6e6e6e" stroke-width="0.8"/>
<line x1="193.7" y1="731.17" x2="195.2" y2="731.17" stroke="#6e6e6e" stroke-width="0.8"/>
<line x1="42.4" y1="728.83" x2="43.9" y2="728.83" stroke="#6e6e6e" stroke-width="0.8"/>
<line x1="193.7" y1="728.83" x2="195.2" y2="728.83" stroke="#6e6e6e" stroke-width="0.8"/>
<line x1="42.4" y1="726.92" x2="43.9" y2="726.92" stroke="#6e6e6e" stroke-width="0.8"/>
<line x1="193.7" y1="726.92" x2="195.2" y2="726.92" stroke="#6e6e6e" stroke-width="0.8"/>
<line x1="42.4" y1="725.30" x2="43.9" y2="725.30" stroke="#6e6e6e" stroke-width="0.8"/>
<line x1="193.7" y1="725.30" x2="195.2" y2="725.30" stroke="#6e6e6e" stroke-width="0.8"/>
<line x1="42.4" y1="723.90" x2="43.9" y2="723.90" stroke="#6e6e6e" stroke-width="0.8"/>
<line x1="193.7" y1="723.90" x2="195.2" y2="723.90" stroke="#6e6e6e" stroke-width="0.8"/>
<line x1="42.4" y1="722.67" x2="43.9" y2="722.67" stroke="#6e6e6e" stroke-width="0.8"/>
<line x1="193.7" y1="722.67" x2="195.2" y2="722.67" stroke="#6e6e6e" stroke-width="0.8"/>
<line x1="42.4" y1="714.29" x2="43.9" y2="714.29" stroke="#6e6e6e" stroke-width="0.8"/>
<line x1="193.7" y1="714.29" x2="195.2" y2="714.29" stroke="#6e6e6e" stroke-width="0.8"/>
<line x1="42.4" y1="710.03" x2="43.9" y2="710.03" stroke="#6e6e6e" stroke-width="0.8"/>
<line x1="193.7" y1="710.03" x2="195.2" y2="710.03" stroke="#6e6e6e" stroke-width="0.8"/>
<line x1="42.4" y1="707.01" x2="43.9" y2="707.01" stroke="#6e6e6e" stroke-width="0.8"/>
<line x1="193.7" y1="707.01" x2="195.2" y2="707.01" stroke="#6e6e6e" stroke-width="0.8"/>
<line x1="42.4" y1="704.67" x2="43.9" y2="704.67" stroke="#6e6e6e" stroke-width="0.8"/>
<line x1="193.7" y1="704.67" x2="195.2" y2="704.67" stroke="#6e6e6e" stroke-width="0.8"/>
<line x1="42.4" y1="702.76" x2="43.9" y2="702.76" stroke="#6e6e6e" stroke-width="0.8"/>
<line x1="193.7" y1="702.76" x2="195.2" y2="702.76" stroke="#6e6e6e" stroke-width="0.8"/>
<line x1="42.4" y1="701.14" x2="43.9" y2="701.14" stroke="#6e6e6e" stroke-width="0.8"/>
<line x1="193.7" y1="701.14" x2="195.2" y2="701.14" stroke="#6e6e6e" stroke-width="0.8"/>
<line x1="42.4" y1="699.74" x2="43.9" y2="699.74" stroke="#6e6e6e" stroke-width="0.8"/>
<line x1="193.7" y1="699.74" x2="195.2" y2="699.74" stroke="#6e6e6e" stroke-width="0.8"/>
<line x1="42.4" y1="698.51" x2="43.9" y2="698.51" stroke="#6e6e6e" stroke-width="0.8"/>
<line x1="193.7" y1="698.51" x2="195.2" y2="698.51" stroke="#6e6e6e" stroke-width="0.8"/>
<line x1="42.4" y1="697.40" x2="43.9" y2="697.40" stroke="#6e6e6e" stroke-width="0.8"/>
<line x1="193.7" y1="697.40" x2="195.2" y2="697.40" stroke="#6e6e6e" stroke-width="0.8"/>
<line x1="42.4" y1="690.13" x2="43.9" y2="690.13" stroke="#6e6e6e" stroke-width="0.8"/>
<line x1="193.7" y1="690.13" x2="195.2" y2="690.13" stroke="#6e6e6e" stroke-width="0.8"/>
<line x1="42.4" y1="685.87" x2="43.9" y2="685.87" stroke="#6e6e6e" stroke-width="0.8"/>
<line x1="193.7" y1="685.87" x2="195.2" y2="685.87" stroke="#6e6e6e" stroke-width="0.8"/>
<line x1="42.4" y1="682.85" x2="43.9" y2="682.85" stroke="#6e6e6e" stroke-width="0.8"/>
<line x1="193.7" y1="682.85" x2="195.2" y2="682.85" stroke="#6e6e6e" stroke-width="0.8"/>
<line x1="42.4" y1="680.51" x2="43.9" y2="680.51" stroke="#6e6e6e" stroke-width="0.8"/>
<line x1="193.7" y1="680.51" x2="195.2" y2="680.51" stroke="#6e6e6e" stroke-width="0.8"/>
<line x1="42.4" y1="678.60" x2="43.9" y2="678.60" stroke="#6e6e6e" stroke-width="0.8"/>
<line x1="193.7" y1="678.60" x2="195.2" y2="678.60" stroke="#6e6e6e" stroke-width="0.8"/>
<line x1="42.4" y1="676.98" x2="43.9" y2="676.98" stroke="#6e6e6e" stroke-width="0.8"/>
<line x1="193.7" y1="676.98" x2="195.2" y2="676.98" stroke="#6e6e6e" stroke-width="0.8"/>
<line x1="42.4" y1="675.58" x2="43.9" y2="675.58" stroke="#6e6e6e" stroke-width="0.8"/>
<line x1="193.7" y1="675.58" x2="195.2" y2="675.58" stroke="#6e6e6e" stroke-width="0.8"/>
<line x1="42.4" y1="674.35" x2="43.9" y2="674.35" stroke="#6e6e6e" stroke-width="0.8"/>
<line x1="193.7" y1="674.35" x2="195.2" y2="674.35" stroke="#6e6e6e" stroke-width="0.8"/>
<line x1="42.4" y1="665.97" x2="43.9" y2="665.97" stroke="#6e6e6e" stroke-width="0.8"/>
<line x1="193.7" y1="665.97" x2="195.2" y2="665.97" stroke="#6e6e6e" stroke-width="0.8"/>
<line x1="42.4" y1="661.71" x2="43.9" y2="661.71" stroke="#6e6e6e" stroke-width="0.8"/>
<line x1="193.7" y1="661.71" x2="195.2" y2="661.71" stroke="#6e6e6e" stroke-width="0.8"/>
<line x1="42.4" y1="658.69" x2="43.9" y2="658.69" stroke="#6e6e6e" stroke-width="0.8"/>
<line x1="193.7" y1="658.69" x2="195.2" y2="658.69" stroke="#6e6e6e" stroke-width="0.8"/>
<line x1="42.4" y1="656.35" x2="43.9" y2="656.35" stroke="#6e6e6e" stroke-width="0.8"/>
<line x1="193.7" y1="656.35" x2="195.2" y2="656.35" stroke="#6e6e6e" stroke-width="0.8"/>
<line x1="42.4" y1="654.44" x2="43.9" y2="654.44" stroke="#6e6e6e" stroke-width="0.8"/>
<line x1="193.7" y1="654.44" x2="195.2" y2="654.44" stroke="#6e6e6e" stroke-width="0.8"/>
<line x1="42.4" y1="652.82" x2="43.9" y2="652.82" stroke="#6e6e6e" stroke-width="0.8"/>
<line x1="193.7" y1="652.82" x2="195.2" y2="652.82" stroke="#6e6e6e" stroke-width="0.8"/>
<line x1="42.4" y1="651.42" x2="43.9" y2="651.42" stroke="#6e6e6e" stroke-width="0.8"/>
<line x1="193.7" y1="651.42" x2="195.2" y2="651.42" stroke="#6e6e6e" stroke-width="0.8"/>
<line x1="42.4" y1="650.19" x2="43.9" y2="650.19" stroke="#6e6e6e" stroke-width="0.8"/>
<line x1="193.7" y1="650.19" x2="195.2" y2="650.19" stroke="#6e6e6e" stroke-width="0.8"/>
<line x1="42.4" y1="649.08" x2="43.9" y2="649.08" stroke="#6e6e6e" stroke-width="0.8"/>
<line x1="193.7" y1="649.08" x2="195.2" y2="649.08" stroke="#6e6e6e" stroke-width="0.8"/>
<line x1="42.4" y1="641.81" x2="43.9" y2="641.81" stroke="#6e6e6e" stroke-width="0.8"/>
<line x1="193.7" y1="641.81" x2="195.2" y2="641.81" stroke="#6e6e6e" stroke-width="0.8"/>
<line x1="42.4" y1="637.55" x2="43.9" y2="637.55" stroke="#6e6e6e" stroke-width="0.8"/>
<line x1="193.7" y1="637.55" x2="195.2" y2="637.55" stroke="#6e6e6e" stroke-width="0.8"/>
<line x1="42.4" y1="634.53" x2="43.9" y2="634.53" stroke="#6e6e6e" stroke-width="0.8"/>
<line x1="193.7" y1="634.53" x2="195.2" y2="634.53" stroke="#6e6e6e" stroke-width="0.8"/>
<line x1="42.4" y1="632.19" x2="43.9" y2="632.19" stroke="#6e6e6e" stroke-width="0.8"/>
<line x1="193.7" y1="632.19" x2="195.2" y2="632.19" stroke="#6e6e6e" stroke-width="0.8"/>
<line x1="42.4" y1="630.28" x2="43.9" y2="630.28" stroke="#6e6e6e" stroke-width="0.8"/>
<line x1="193.7" y1="630.28" x2="195.2" y2="630.28" stroke="#6e6e6e" stroke-width="0.8"/>
<line x1="42.4" y1="628.66" x2="43.9" y2="628.66" stroke="#6e6e6e" stroke-width="0.8"/>
<line x1="193.7" y1="628.66" x2="195.2" y2="628.66" stroke="#6e6e6e" stroke-width="0.8"/>
<line x1="42.4" y1="627.26" x2="43.9" y2="627.26" stroke="#6e6e6e" stroke-width="0.8"/>
<line x1="193.7" y1="627.26" x2="195.2" y2="627.26" stroke="#6e6e6e" stroke-width="0.8"/>
<line x1="42.4" y1="626.03" x2="43.9" y2="626.03" stroke="#6e6e6e" stroke-width="0.8"/>
<line x1="193.7" y1="626.03" x2="195.2" y2="626.03" stroke="#6e6e6e" stroke-width="0.8"/>
<line x1="42.4" y1="617.65" x2="43.9" y2="617.65" stroke="#6e6e6e" stroke-width="0.8"/>
<line x1="193.7" y1="617.65" x2="195.2" y2="617.65" stroke="#6e6e6e" stroke-width="0.8"/>
<line x1="42.4" y1="613.39" x2="43.9" y2="613.39" stroke="#6e6e6e" stroke-width="0.8"/>
<line x1="193.7" y1="613.39" x2="195.2" y2="613.39" stroke="#6e6e6e" stroke-width="0.8"/>
<line x1="42.4" y1="610.37" x2="43.9" y2="610.37" stroke="#6e6e6e" stroke-width="0.8"/>
<line x1="193.7" y1="610.37" x2="195.2" y2="610.37" stroke="#6e6e6e" stroke-width="0.8"/>
<line x1="42.4" y1="608.03" x2="43.9" y2="608.03" stroke="#6e6e6e" stroke-width="0.8"/>
<line x1="193.7" y1="608.03" x2="195.2" y2="608.03" stroke="#6e6e6e" stroke-width="0.8"/>
<line x1="42.4" y1="606.12" x2="43.9" y2="606.12" stroke="#6e6e6e" stroke-width="0.8"/>
<line x1="193.7" y1="606.12" x2="195.2" y2="606.12" stroke="#6e6e6e" stroke-width="0.8"/>
<line x1="72.96" y1="842.5" x2="72.96" y2="840.5" stroke="#6e6e6e" stroke-width="0.8"/>
<line x1="72.96" y1="604.7" x2="72.96" y2="606.7" stroke="#6e6e6e" stroke-width="0.8"/>
<line x1="103.52" y1="842.5" x2="103.52" y2="840.5" stroke="#6e6e6e" stroke-width="0.8"/>
<line x1="103.52" y1="604.7" x2="103.52" y2="606.7" stroke="#6e6e6e" stroke-width="0.8"/>
<line x1="134.08" y1="842.5" x2="134.08" y2="840.5" stroke="#6e6e6e" stroke-width="0.8"/>
<line x1="134.08" y1="604.7" x2="134.08" y2="606.7" stroke="#6e6e6e" stroke-width="0.8"/>
<line x1="164.64" y1="842.5" x2="164.64" y2="840.5" stroke="#6e6e6e" stroke-width="0.8"/>
<line x1="164.64" y1="604.7" x2="164.64" y2="606.7" stroke="#6e6e6e" stroke-width="0.8"/>
<line x1="42.4" y1="818.20" x2="44.4" y2="818.20" stroke="#6e6e6e" stroke-width="0.8"/>
<line x1="195.2" y1="818.20" x2="193.2" y2="818.20" stroke="#6e6e6e" stroke-width="0.8"/>
<line x1="42.4" y1="769.88" x2="44.4" y2="769.88" stroke="#6e6e6e" stroke-width="0.8"/>
<line x1="195.2" y1="769.88" x2="193.2" y2="769.88" stroke="#6e6e6e" stroke-width="0.8"/>
<line x1="42.4" y1="721.56" x2="44.4" y2="721.56" stroke="#6e6e6e" stroke-width="0.8"/>
<line x1="195.2" y1="721.56" x2="193.2" y2="721.56" stroke="#6e6e6e" stroke-width="0.8"/>
<line x1="42.4" y1="673.24" x2="44.4" y2="673.24" stroke="#6e6e6e" stroke-width="0.8"/>
<line x1="195.2" y1="673.24" x2="193.2" y2="673.24" stroke="#6e6e6e" stroke-width="0.8"/>
<line x1="42.4" y1="624.92" x2="44.4" y2="624.92" stroke="#6e6e6e" stroke-width="0.8"/>
<line x1="195.2" y1="624.92" x2="193.2" y2="624.92" stroke="#6e6e6e" stroke-width="0.8"/>
<text x="72.96" y="855.4" text-anchor="middle" font-size="9.4" font-family="&quot;Liberation Sans&quot;, sans-serif" font-weight="bold" stroke="#1a1a1a" stroke-width="0.22" fill="#1a1a1a">100</text>
<text x="103.52" y="855.4" text-anchor="middle" font-size="9.4" font-family="&quot;Liberation Sans&quot;, sans-serif" font-weight="bold" stroke="#1a1a1a" stroke-width="0.22" fill="#1a1a1a">200</text>
<text x="134.08" y="855.4" text-anchor="middle" font-size="9.4" font-family="&quot;Liberation Sans&quot;, sans-serif" font-weight="bold" stroke="#1a1a1a" stroke-width="0.22" fill="#1a1a1a">300</text>
<text x="164.64" y="855.4" text-anchor="middle" font-size="9.4" font-family="&quot;Liberation Sans&quot;, sans-serif" font-weight="bold" stroke="#1a1a1a" stroke-width="0.22" fill="#1a1a1a">400</text>
<text x="195.20" y="855.4" text-anchor="middle" font-size="9.4" font-family="&quot;Liberation Sans&quot;, sans-serif" font-weight="bold" stroke="#1a1a1a" stroke-width="0.22" fill="#1a1a1a">500</text>
<text x="39.0" y="823.70" text-anchor="end" font-size="9.4" font-family="&quot;Liberation Sans&quot;, sans-serif" font-weight="bold" stroke="#1a1a1a" stroke-width="0.22" fill="#1a1a1a">10<tspan font-size="7.4" dx="0.5" dy="-4.5">0</tspan></text>
<text x="39.0" y="775.38" text-anchor="end" font-size="9.4" font-family="&quot;Liberation Sans&quot;, sans-serif" font-weight="bold" stroke="#1a1a1a" stroke-width="0.22" fill="#1a1a1a">10<tspan font-size="7.4" dx="0.5" dy="-4.5">2</tspan></text>
<text x="39.0" y="727.06" text-anchor="end" font-size="9.4" font-family="&quot;Liberation Sans&quot;, sans-serif" font-weight="bold" stroke="#1a1a1a" stroke-width="0.22" fill="#1a1a1a">10<tspan font-size="7.4" dx="0.5" dy="-4.5">4</tspan></text>
<text x="39.0" y="678.74" text-anchor="end" font-size="9.4" font-family="&quot;Liberation Sans&quot;, sans-serif" font-weight="bold" stroke="#1a1a1a" stroke-width="0.22" fill="#1a1a1a">10<tspan font-size="7.4" dx="0.5" dy="-4.5">6</tspan></text>
<text x="39.0" y="630.42" text-anchor="end" font-size="9.4" font-family="&quot;Liberation Sans&quot;, sans-serif" font-weight="bold" stroke="#1a1a1a" stroke-width="0.22" fill="#1a1a1a">10<tspan font-size="7.4" dx="0.5" dy="-4.5">8</tspan></text>
<text x="118.8" y="601.3" text-anchor="middle" font-size="10.5" font-family="&quot;Liberation Sans&quot;, sans-serif" font-weight="bold" stroke="#1a1a1a" stroke-width="0.22" fill="#1a1a1a">Objective space</text>
<text x="118.8" y="869.5" text-anchor="middle" font-size="10.5" font-family="&quot;Liberation Sans&quot;, sans-serif" font-weight="bold" stroke="#1a1a1a" stroke-width="0.22" fill="#1a1a1a">Iteration</text>
<text transform="translate(21.0 723.6) rotate(-90)" x="0" y="0" text-anchor="middle" font-size="10.5" font-family="&quot;Liberation Sans&quot;, sans-serif" font-weight="bold" stroke="#1a1a1a" stroke-width="0.22" fill="#1a1a1a">Best score obtained so far</text>
<rect x="211.0" y="604.7" width="15.7" height="237.7" fill="url(#parula)" stroke="#6e6e6e" stroke-width="0.8"/>
<text x="231.2" y="846.80" font-size="9" font-family="&quot;Liberation Sans&quot;, sans-serif" font-weight="bold" stroke="#1a1a1a" stroke-width="0.22" fill="#1a1a1a">0</text>
<line x1="224.7" y1="818.63" x2="226.7" y2="818.63" stroke="#6e6e6e" stroke-width="0.8"/>
<text x="231.2" y="823.03" font-size="9" font-family="&quot;Liberation Sans&quot;, sans-serif" font-weight="bold" stroke="#1a1a1a" stroke-width="0.22" fill="#1a1a1a">0.1</text>
<line x1="224.7" y1="794.86" x2="226.7" y2="794.86" stroke="#6e6e6e" stroke-width="0.8"/>
<text x="231.2" y="799.26" font-size="9" font-family="&quot;Liberation Sans&quot;, sans-serif" font-weight="bold" stroke="#1a1a1a" stroke-width="0.22" fill="#1a1a1a">0.2</text>
<line x1="224.7" y1="771.09" x2="226.7" y2="771.09" stroke="#6e6e6e" stroke-width="0.8"/>
<text x="231.2" y="775.49" font-size="9" font-family="&quot;Liberation Sans&quot;, sans-serif" font-weight="bold" stroke="#1a1a1a" stroke-width="0.22" fill="#1a1a1a">0.3</text>
<line x1="224.7" y1="747.32" x2="226.7" y2="747.32" stroke="#6e6e6e" stroke-width="0.8"/>
<text x="231.2" y="751.72" font-size="9" font-family="&quot;Liberation Sans&quot;, sans-serif" font-weight="bold" stroke="#1a1a1a" stroke-width="0.22" fill="#1a1a1a">0.4</text>
<line x1="224.7" y1="723.55" x2="226.7" y2="723.55" stroke="#6e6e6e" stroke-width="0.8"/>
<text x="231.2" y="727.95" font-size="9" font-family="&quot;Liberation Sans&quot;, sans-serif" font-weight="bold" stroke="#1a1a1a" stroke-width="0.22" fill="#1a1a1a">0.5</text>
<line x1="224.7" y1="699.78" x2="226.7" y2="699.78" stroke="#6e6e6e" stroke-width="0.8"/>
<text x="231.2" y="704.18" font-size="9" font-family="&quot;Liberation Sans&quot;, sans-serif" font-weight="bold" stroke="#1a1a1a" stroke-width="0.22" fill="#1a1a1a">0.6</text>
<line x1="224.7" y1="676.01" x2="226.7" y2="676.01" stroke="#6e6e6e" stroke-width="0.8"/>
<text x="231.2" y="680.41" font-size="9" font-family="&quot;Liberation Sans&quot;, sans-serif" font-weight="bold" stroke="#1a1a1a" stroke-width="0.22" fill="#1a1a1a">0.7</text>
<line x1="224.7" y1="652.24" x2="226.7" y2="652.24" stroke="#6e6e6e" stroke-width="0.8"/>
<text x="231.2" y="656.64" font-size="9" font-family="&quot;Liberation Sans&quot;, sans-serif" font-weight="bold" stroke="#1a1a1a" stroke-width="0.22" fill="#1a1a1a">0.8</text>
<line x1="224.7" y1="628.47" x2="226.7" y2="628.47" stroke="#6e6e6e" stroke-width="0.8"/>
<text x="231.2" y="632.87" font-size="9" font-family="&quot;Liberation Sans&quot;, sans-serif" font-weight="bold" stroke="#1a1a1a" stroke-width="0.22" fill="#1a1a1a">0.9</text>
<text x="231.2" y="609.10" font-size="9" font-family="&quot;Liberation Sans&quot;, sans-serif" font-weight="bold" stroke="#1a1a1a" stroke-width="0.22" fill="#1a1a1a">1</text>
<rect x="247.3" y="687.3" width="81.3" height="63.3" fill="#fff" stroke="#6e6e6e" stroke-width="0.8"/>
<line x1="250.6" y1="695.1" x2="284.5" y2="695.1" stroke="#dc1419" stroke-width="2"/>
<text x="287.1" y="699.0" font-size="9.1" font-family="&quot;Liberation Sans&quot;, sans-serif" font-weight="bold" stroke="#1a1a1a" stroke-width="0.22" fill="#1a1a1a">Chimp</text>
<line x1="250.6" y1="707.4" x2="284.5" y2="707.4" stroke="#111111" stroke-width="2" stroke-dasharray="7 6.3"/>
<text x="287.1" y="711.3" font-size="9.1" font-family="&quot;Liberation Sans&quot;, sans-serif" font-weight="bold" stroke="#1a1a1a" stroke-width="0.22" fill="#1a1a1a">SChoA</text>
<line x1="250.6" y1="719.8" x2="284.5" y2="719.8" stroke="#16e416" stroke-width="2"/>
<text x="287.1" y="723.7" font-size="9.1" font-family="&quot;Liberation Sans&quot;, sans-serif" font-weight="bold" stroke="#1a1a1a" stroke-width="0.22" fill="#1a1a1a">MPSO</text>
<line x1="250.6" y1="732.2" x2="284.5" y2="732.2" stroke="#1414dc" stroke-width="2"/>
<text x="287.1" y="736.1" font-size="9.1" font-family="&quot;Liberation Sans&quot;, sans-serif" font-weight="bold" stroke="#1a1a1a" stroke-width="0.22" fill="#1a1a1a">SCA</text>
<line x1="250.6" y1="744.5" x2="284.5" y2="744.5" stroke="#da16da" stroke-width="2"/>
<text x="287.1" y="748.4" font-size="9.1" font-family="&quot;Liberation Sans&quot;, sans-serif" font-weight="bold" stroke="#1a1a1a" stroke-width="0.22" fill="#1a1a1a">TACPSO</text>
<line x1="396.4" y1="837.12" x2="544.9" y2="837.12" stroke="#cbcbcb" stroke-width="0.8" stroke-dasharray="1 1.3"/>
<line x1="396.4" y1="832.48" x2="544.9" y2="832.48" stroke="#cbcbcb" stroke-width="0.8" stroke-dasharray="1 1.3"/>
<line x1="396.4" y1="829.19" x2="544.9" y2="829.19" stroke="#cbcbcb" stroke-width="0.8" stroke-dasharray="1 1.3"/>
<line x1="396.4" y1="826.64" x2="544.9" y2="826.64" stroke="#cbcbcb" stroke-width="0.8" stroke-dasharray="1 1.3"/>
<line x1="396.4" y1="824.56" x2="544.9" y2="824.56" stroke="#cbcbcb" stroke-width="0.8" stroke-dasharray="1 1.3"/>
<line x1="396.4" y1="822.80" x2="544.9" y2="822.80" stroke="#cbcbcb" stroke-width="0.8" stroke-dasharray="1 1.3"/>
<line x1="396.4" y1="821.27" x2="544.9" y2="821.27" stroke="#cbcbcb" stroke-width="0.8" stroke-dasharray="1 1.3"/>
<line x1="396.4" y1="819.92" x2="544.9" y2="819.92" stroke="#cbcbcb" stroke-width="0.8" stroke-dasharray="1 1.3"/>
<line x1="396.4" y1="818.72" x2="544.9" y2="818.72" stroke="#cbcbcb" stroke-width="0.8" stroke-dasharray="1 1.3"/>
<line x1="396.4" y1="810.80" x2="544.9" y2="810.80" stroke="#cbcbcb" stroke-width="0.8" stroke-dasharray="1 1.3"/>
<line x1="396.4" y1="806.16" x2="544.9" y2="806.16" stroke="#cbcbcb" stroke-width="0.8" stroke-dasharray="1 1.3"/>
<line x1="396.4" y1="802.87" x2="544.9" y2="802.87" stroke="#cbcbcb" stroke-width="0.8" stroke-dasharray="1 1.3"/>
<line x1="396.4" y1="800.32" x2="544.9" y2="800.32" stroke="#cbcbcb" stroke-width="0.8" stroke-dasharray="1 1.3"/>
<line x1="396.4" y1="798.24" x2="544.9" y2="798.24" stroke="#cbcbcb" stroke-width="0.8" stroke-dasharray="1 1.3"/>
<line x1="396.4" y1="796.48" x2="544.9" y2="796.48" stroke="#cbcbcb" stroke-width="0.8" stroke-dasharray="1 1.3"/>
<line x1="396.4" y1="794.95" x2="544.9" y2="794.95" stroke="#cbcbcb" stroke-width="0.8" stroke-dasharray="1 1.3"/>
<line x1="396.4" y1="793.60" x2="544.9" y2="793.60" stroke="#cbcbcb" stroke-width="0.8" stroke-dasharray="1 1.3"/>
<line x1="396.4" y1="784.48" x2="544.9" y2="784.48" stroke="#cbcbcb" stroke-width="0.8" stroke-dasharray="1 1.3"/>
<line x1="396.4" y1="779.84" x2="544.9" y2="779.84" stroke="#cbcbcb" stroke-width="0.8" stroke-dasharray="1 1.3"/>
<line x1="396.4" y1="776.55" x2="544.9" y2="776.55" stroke="#cbcbcb" stroke-width="0.8" stroke-dasharray="1 1.3"/>
<line x1="396.4" y1="774.00" x2="544.9" y2="774.00" stroke="#cbcbcb" stroke-width="0.8" stroke-dasharray="1 1.3"/>
<line x1="396.4" y1="771.92" x2="544.9" y2="771.92" stroke="#cbcbcb" stroke-width="0.8" stroke-dasharray="1 1.3"/>
<line x1="396.4" y1="770.16" x2="544.9" y2="770.16" stroke="#cbcbcb" stroke-width="0.8" stroke-dasharray="1 1.3"/>
<line x1="396.4" y1="768.63" x2="544.9" y2="768.63" stroke="#cbcbcb" stroke-width="0.8" stroke-dasharray="1 1.3"/>
<line x1="396.4" y1="767.28" x2="544.9" y2="767.28" stroke="#cbcbcb" stroke-width="0.8" stroke-dasharray="1 1.3"/>
<line x1="396.4" y1="766.08" x2="544.9" y2="766.08" stroke="#cbcbcb" stroke-width="0.8" stroke-dasharray="1 1.3"/>
<line x1="396.4" y1="758.16" x2="544.9" y2="758.16" stroke="#cbcbcb" stroke-width="0.8" stroke-dasharray="1 1.3"/>
<line x1="396.4" y1="753.52" x2="544.9" y2="753.52" stroke="#cbcbcb" stroke-width="0.8" stroke-dasharray="1 1.3"/>
<line x1="396.4" y1="750.23" x2="544.9" y2="750.23" stroke="#cbcbcb" stroke-width="0.8" stroke-dasharray="1 1.3"/>
<line x1="396.4" y1="747.68" x2="544.9" y2="747.68" stroke="#cbcbcb" stroke-width="0.8" stroke-dasharray="1 1.3"/>
<line x1="396.4" y1="745.60" x2="544.9" y2="745.60" stroke="#cbcbcb" stroke-width="0.8" stroke-dasharray="1 1.3"/>
<line x1="396.4" y1="743.84" x2="544.9" y2="743.84" stroke="#cbcbcb" stroke-width="0.8" stroke-dasharray="1 1.3"/>
<line x1="396.4" y1="742.31" x2="544.9" y2="742.31" stroke="#cbcbcb" stroke-width="0.8" stroke-dasharray="1 1.3"/>
<line x1="396.4" y1="740.96" x2="544.9" y2="740.96" stroke="#cbcbcb" stroke-width="0.8" stroke-dasharray="1 1.3"/>
<line x1="396.4" y1="731.84" x2="544.9" y2="731.84" stroke="#cbcbcb" stroke-width="0.8" stroke-dasharray="1 1.3"/>
<line x1="396.4" y1="727.20" x2="544.9" y2="727.20" stroke="#cbcbcb" stroke-width="0.8" stroke-dasharray="1 1.3"/>
<line x1="396.4" y1="723.91" x2="544.9" y2="723.91" stroke="#cbcbcb" stroke-width="0.8" stroke-dasharray="1 1.3"/>
<line x1="396.4" y1="721.36" x2="544.9" y2="721.36" stroke="#cbcbcb" stroke-width="0.8" stroke-dasharray="1 1.3"/>
<line x1="396.4" y1="719.28" x2="544.9" y2="719.28" stroke="#cbcbcb" stroke-width="0.8" stroke-dasharray="1 1.3"/>
<line x1="396.4" y1="717.52" x2="544.9" y2="717.52" stroke="#cbcbcb" stroke-width="0.8" stroke-dasharray="1 1.3"/>
<line x1="396.4" y1="715.99" x2="544.9" y2="715.99" stroke="#cbcbcb" stroke-width="0.8" stroke-dasharray="1 1.3"/>
<line x1="396.4" y1="714.64" x2="544.9" y2="714.64" stroke="#cbcbcb" stroke-width="0.8" stroke-dasharray="1 1.3"/>
<line x1="396.4" y1="713.44" x2="544.9" y2="713.44" stroke="#cbcbcb" stroke-width="0.8" stroke-dasharray="1 1.3"/>
<line x1="396.4" y1="705.52" x2="544.9" y2="705.52" stroke="#cbcbcb" stroke-width="0.8" stroke-dasharray="1 1.3"/>
<line x1="396.4" y1="700.88" x2="544.9" y2="700.88" stroke="#cbcbcb" stroke-width="0.8" stroke-dasharray="1 1.3"/>
<line x1="396.4" y1="697.59" x2="544.9" y2="697.59" stroke="#cbcbcb" stroke-width="0.8" stroke-dasharray="1 1.3"/>
<line x1="396.4" y1="695.04" x2="544.9" y2="695.04" stroke="#cbcbcb" stroke-width="0.8" stroke-dasharray="1 1.3"/>
<line x1="396.4" y1="692.96" x2="544.9" y2="692.96" stroke="#cbcbcb" stroke-width="0.8" stroke-dasharray="1 1.3"/>
<line x1="396.4" y1="691.20" x2="544.9" y2="691.20" stroke="#cbcbcb" stroke-width="0.8" stroke-dasharray="1 1.3"/>
<line x1="396.4" y1="689.67" x2="544.9" y2="689.67" stroke="#cbcbcb" stroke-width="0.8" stroke-dasharray="1 1.3"/>
<line x1="396.4" y1="688.32" x2="544.9" y2="688.32" stroke="#cbcbcb" stroke-width="0.8" stroke-dasharray="1 1.3"/>
<line x1="396.4" y1="679.20" x2="544.9" y2="679.20" stroke="#cbcbcb" stroke-width="0.8" stroke-dasharray="1 1.3"/>
<line x1="396.4" y1="674.56" x2="544.9" y2="674.56" stroke="#cbcbcb" stroke-width="0.8" stroke-dasharray="1 1.3"/>
<line x1="396.4" y1="671.27" x2="544.9" y2="671.27" stroke="#cbcbcb" stroke-width="0.8" stroke-dasharray="1 1.3"/>
<line x1="396.4" y1="668.72" x2="544.9" y2="668.72" stroke="#cbcbcb" stroke-width="0.8" stroke-dasharray="1 1.3"/>
<line x1="396.4" y1="666.64" x2="544.9" y2="666.64" stroke="#cbcbcb" stroke-width="0.8" stroke-dasharray="1 1.3"/>
<line x1="396.4" y1="664.88" x2="544.9" y2="664.88" stroke="#cbcbcb" stroke-width="0.8" stroke-dasharray="1 1.3"/>
<line x1="396.4" y1="663.35" x2="544.9" y2="663.35" stroke="#cbcbcb" stroke-width="0.8" stroke-dasharray="1 1.3"/>
<line x1="396.4" y1="662.00" x2="544.9" y2="662.00" stroke="#cbcbcb" stroke-width="0.8" stroke-dasharray="1 1.3"/>
<line x1="396.4" y1="660.80" x2="544.9" y2="660.80" stroke="#cbcbcb" stroke-width="0.8" stroke-dasharray="1 1.3"/>
<line x1="396.4" y1="652.88" x2="544.9" y2="652.88" stroke="#cbcbcb" stroke-width="0.8" stroke-dasharray="1 1.3"/>
<line x1="396.4" y1="648.24" x2="544.9" y2="648.24" stroke="#cbcbcb" stroke-width="0.8" stroke-dasharray="1 1.3"/>
<line x1="396.4" y1="644.95" x2="544.9" y2="644.95" stroke="#cbcbcb" stroke-width="0.8" stroke-dasharray="1 1.3"/>
<line x1="396.4" y1="642.40" x2="544.9" y2="642.40" stroke="#cbcbcb" stroke-width="0.8" stroke-dasharray="1 1.3"/>
<line x1="396.4" y1="640.32" x2="544.9" y2="640.32" stroke="#cbcbcb" stroke-width="0.8" stroke-dasharray="1 1.3"/>
<line x1="396.4" y1="638.56" x2="544.9" y2="638.56" stroke="#cbcbcb" stroke-width="0.8" stroke-dasharray="1 1.3"/>
<line x1="396.4" y1="637.03" x2="544.9" y2="637.03" stroke="#cbcbcb" stroke-width="0.8" stroke-dasharray="1 1.3"/>
<line x1="396.4" y1="635.68" x2="544.9" y2="635.68" stroke="#cbcbcb" stroke-width="0.8" stroke-dasharray="1 1.3"/>
<line x1="396.4" y1="626.56" x2="544.9" y2="626.56" stroke="#cbcbcb" stroke-width="0.8" stroke-dasharray="1 1.3"/>
<line x1="396.4" y1="621.92" x2="544.9" y2="621.92" stroke="#cbcbcb" stroke-width="0.8" stroke-dasharray="1 1.3"/>
<line x1="396.4" y1="618.63" x2="544.9" y2="618.63" stroke="#cbcbcb" stroke-width="0.8" stroke-dasharray="1 1.3"/>
<line x1="396.4" y1="616.08" x2="544.9" y2="616.08" stroke="#cbcbcb" stroke-width="0.8" stroke-dasharray="1 1.3"/>
<line x1="396.4" y1="614.00" x2="544.9" y2="614.00" stroke="#cbcbcb" stroke-width="0.8" stroke-dasharray="1 1.3"/>
<line x1="396.4" y1="612.24" x2="544.9" y2="612.24" stroke="#cbcbcb" stroke-width="0.8" stroke-dasharray="1 1.3"/>
<line x1="396.4" y1="610.71" x2="544.9" y2="610.71" stroke="#cbcbcb" stroke-width="0.8" stroke-dasharray="1 1.3"/>
<line x1="396.4" y1="609.36" x2="544.9" y2="609.36" stroke="#cbcbcb" stroke-width="0.8" stroke-dasharray="1 1.3"/>
<line x1="396.4" y1="608.16" x2="544.9" y2="608.16" stroke="#cbcbcb" stroke-width="0.8" stroke-dasharray="1 1.3"/>
<line x1="396.4" y1="792.40" x2="544.9" y2="792.40" stroke="#e2e2e2" stroke-width="1"/>
<line x1="396.4" y1="739.76" x2="544.9" y2="739.76" stroke="#e2e2e2" stroke-width="1"/>
<line x1="396.4" y1="687.12" x2="544.9" y2="687.12" stroke="#e2e2e2" stroke-width="1"/>
<line x1="396.4" y1="634.48" x2="544.9" y2="634.48" stroke="#e2e2e2" stroke-width="1"/>
<line x1="426.10" y1="605.2" x2="426.10" y2="842.5" stroke="#e2e2e2" stroke-width="1"/>
<line x1="455.80" y1="605.2" x2="455.80" y2="842.5" stroke="#e2e2e2" stroke-width="1"/>
<line x1="485.50" y1="605.2" x2="485.50" y2="842.5" stroke="#e2e2e2" stroke-width="1"/>
<line x1="515.20" y1="605.2" x2="515.20" y2="842.5" stroke="#e2e2e2" stroke-width="1"/>
<rect x="396.4" y="605.2" width="148.5" height="237.3" fill="none" stroke="#6e6e6e" stroke-width="1"/>
<g fill="none" stroke-width="2" stroke-linejoin="round" stroke-linecap="butt">
<clipPath id="c6"><rect x="395.4" y="603.7" width="150.5" height="240.3"/></clipPath>
<path clip-path="url(#c6)" d="M396.4,607.9 L441.9,607.9 L450.4,608.5 L453.1,610.1 L473.1,610.1 L475.1,615.1 L475.8,624.9 L479.7,625.6 L480.4,634.1 L489.6,634.8 L491.5,640.0 L492.8,647.9 L494.8,654.5 L495.5,663.7 L496.1,676.8 L496.5,690.0 L498.1,738.2 L499.1,777.0 L501.0,806.1 L504.0,823.6 L508.8,831.4 L516.6,832.9 L544.9,832.9" stroke="#dc1419"/>
<path clip-path="url(#c6)" d="M396.4,605.5 L397.9,609.8 L401.8,623.0 L403.1,632.2 L406.4,647.9 L411.7,653.2 L412.3,670.3 L414.3,683.4 L415.0,690.5 L416.9,706.0 L417.6,720.0 L420.9,731.0 L421.5,745.0 L423.5,757.0 L423.5,768.0 L424.2,799.4 L424.8,812.6 L427.4,819.1 L429.4,824.4 L433.4,831.0 L438.6,834.9 L443.9,837.3 L453.1,837.8 L458.3,838.8 L474.1,840.0 L500.0,841.5 L544.9,842.3" stroke="#111111" stroke-dasharray="6.5 6.8" stroke-dashoffset="5.5"/>
<path clip-path="url(#c6)" d="M396.4,605.5 L397.2,615.7 L411.0,617.1 L420.2,617.7 L425.5,619.7 L432.0,620.1 L434.7,624.3 L437.3,630.8 L441.2,637.4 L445.2,640.0 L447.8,653.2 L454.4,653.8 L457.0,659.8 L461.0,669.0 L464.9,679.0 L468.8,690.5 L470.8,699.7 L471.9,713.0 L474.9,720.8 L476.8,744.0 L478.7,763.4 L480.7,775.1 L482.6,780.9 L484.6,800.3 L488.4,806.1 L493.3,812.9 L501.0,815.8 L508.8,818.2 L532.1,818.8 L536.0,820.7 L544.9,820.7" stroke="#16e416"/>
<path clip-path="url(#c6)" d="M396.4,607.9 L441.9,607.9 L442.6,633.5 L450.4,633.7 L451.8,637.4 L464.6,638.1 L465.9,646.6 L467.9,655.8 L471.8,657.1 L473.8,659.8 L475.1,672.2 L479.7,673.5 L485.6,674.9 L497.4,675.5 L498.1,685.0 L544.9,685.3" stroke="#1414dc"/>
<path clip-path="url(#c6)" d="M396.4,608.5 L396.8,650.6 L400.5,658.4 L405.8,663.7 L412.3,667.0 L416.3,669.0 L420.2,675.5 L421.5,680.0 L425.5,687.9 L426.8,694.5 L428.1,706.3 L429.4,712.8 L430.7,728.6 L432.7,729.9 L434.0,736.5 L436.6,740.4 L438.0,747.0 L439.9,754.9 L441.2,758.8 L441.2,767.9 L443.2,774.5 L443.9,782.3 L444.5,794.2 L447.8,798.1 L451.8,802.0 L457.0,803.4 L461.0,806.6 L464.9,809.9 L467.5,811.9 L471.5,812.6 L481.6,816.8 L495.2,817.8 L508.8,819.7 L514.6,824.6 L526.3,826.5 L532.1,828.5 L536.0,830.4 L544.9,830.4" stroke="#da16da"/>
</g>
<line x1="396.4" y1="837.12" x2="397.9" y2="837.12" stroke="#6e6e6e" stroke-width="0.8"/>
<line x1="543.4" y1="837.12" x2="544.9" y2="837.12" stroke="#6e6e6e" stroke-width="0.8"/>
<line x1="396.4" y1="832.48" x2="397.9" y2="832.48" stroke="#6e6e6e" stroke-width="0.8"/>
<line x1="543.4" y1="832.48" x2="544.9" y2="832.48" stroke="#6e6e6e" stroke-width="0.8"/>
<line x1="396.4" y1="829.19" x2="397.9" y2="829.19" stroke="#6e6e6e" stroke-width="0.8"/>
<line x1="543.4" y1="829.19" x2="544.9" y2="829.19" stroke="#6e6e6e" stroke-width="0.8"/>
<line x1="396.4" y1="826.64" x2="397.9" y2="826.64" stroke="#6e6e6e" stroke-width="0.8"/>
<line x1="543.4" y1="826.64" x2="544.9" y2="826.64" stroke="#6e6e6e" stroke-width="0.8"/>
<line x1="396.4" y1="824.56" x2="397.9" y2="824.56" stroke="#6e6e6e" stroke-width="0.8"/>
<line x1="543.4" y1="824.56" x2="544.9" y2="824.56" stroke="#6e6e6e" stroke-width="0.8"/>
<line x1="396.4" y1="822.80" x2="397.9" y2="822.80" stroke="#6e6e6e" stroke-width="0.8"/>
<line x1="543.4" y1="822.80" x2="544.9" y2="822.80" stroke="#6e6e6e" stroke-width="0.8"/>
<line x1="396.4" y1="821.27" x2="397.9" y2="821.27" stroke="#6e6e6e" stroke-width="0.8"/>
<line x1="543.4" y1="821.27" x2="544.9" y2="821.27" stroke="#6e6e6e" stroke-width="0.8"/>
<line x1="396.4" y1="819.92" x2="397.9" y2="819.92" stroke="#6e6e6e" stroke-width="0.8"/>
<line x1="543.4" y1="819.92" x2="544.9" y2="819.92" stroke="#6e6e6e" stroke-width="0.8"/>
<line x1="396.4" y1="818.72" x2="397.9" y2="818.72" stroke="#6e6e6e" stroke-width="0.8"/>
<line x1="543.4" y1="818.72" x2="544.9" y2="818.72" stroke="#6e6e6e" stroke-width="0.8"/>
<line x1="396.4" y1="810.80" x2="397.9" y2="810.80" stroke="#6e6e6e" stroke-width="0.8"/>
<line x1="543.4" y1="810.80" x2="544.9" y2="810.80" stroke="#6e6e6e" stroke-width="0.8"/>
<line x1="396.4" y1="806.16" x2="397.9" y2="806.16" stroke="#6e6e6e" stroke-width="0.8"/>
<line x1="543.4" y1="806.16" x2="544.9" y2="806.16" stroke="#6e6e6e" stroke-width="0.8"/>
<line x1="396.4" y1="802.87" x2="397.9" y2="802.87" stroke="#6e6e6e" stroke-width="0.8"/>
<line x1="543.4" y1="802.87" x2="544.9" y2="802.87" stroke="#6e6e6e" stroke-width="0.8"/>
<line x1="396.4" y1="800.32" x2="397.9" y2="800.32" stroke="#6e6e6e" stroke-width="0.8"/>
<line x1="543.4" y1="800.32" x2="544.9" y2="800.32" stroke="#6e6e6e" stroke-width="0.8"/>
<line x1="396.4" y1="798.24" x2="397.9" y2="798.24" stroke="#6e6e6e" stroke-width="0.8"/>
<line x1="543.4" y1="798.24" x2="544.9" y2="798.24" stroke="#6e6e6e" stroke-width="0.8"/>
<line x1="396.4" y1="796.48" x2="397.9" y2="796.48" stroke="#6e6e6e" stroke-width="0.8"/>
<line x1="543.4" y1="796.48" x2="544.9" y2="796.48" stroke="#6e6e6e" stroke-width="0.8"/>
<line x1="396.4" y1="794.95" x2="397.9" y2="794.95" stroke="#6e6e6e" stroke-width="0.8"/>
<line x1="543.4" y1="794.95" x2="544.9" y2="794.95" stroke="#6e6e6e" stroke-width="0.8"/>
<line x1="396.4" y1="793.60" x2="397.9" y2="793.60" stroke="#6e6e6e" stroke-width="0.8"/>
<line x1="543.4" y1="793.60" x2="544.9" y2="793.60" stroke="#6e6e6e" stroke-width="0.8"/>
<line x1="396.4" y1="784.48" x2="397.9" y2="784.48" stroke="#6e6e6e" stroke-width="0.8"/>
<line x1="543.4" y1="784.48" x2="544.9" y2="784.48" stroke="#6e6e6e" stroke-width="0.8"/>
<line x1="396.4" y1="779.84" x2="397.9" y2="779.84" stroke="#6e6e6e" stroke-width="0.8"/>
<line x1="543.4" y1="779.84" x2="544.9" y2="779.84" stroke="#6e6e6e" stroke-width="0.8"/>
<line x1="396.4" y1="776.55" x2="397.9" y2="776.55" stroke="#6e6e6e" stroke-width="0.8"/>
<line x1="543.4" y1="776.55" x2="544.9" y2="776.55" stroke="#6e6e6e" stroke-width="0.8"/>
<line x1="396.4" y1="774.00" x2="397.9" y2="774.00" stroke="#6e6e6e" stroke-width="0.8"/>
<line x1="543.4" y1="774.00" x2="544.9" y2="774.00" stroke="#6e6e6e" stroke-width="0.8"/>
<line x1="396.4" y1="771.92" x2="397.9" y2="771.92" stroke="#6e6e6e" stroke-width="0.8"/>
<line x1="543.4" y1="771.92" x2="544.9" y2="771.92" stroke="#6e6e6e" stroke-width="0.8"/>
<line x1="396.4" y1="770.16" x2="397.9" y2="770.16" stroke="#6e6e6e" stroke-width="0.8"/>
<line x1="543.4" y1="770.16" x2="544.9" y2="770.16" stroke="#6e6e6e" stroke-width="0.8"/>
<line x1="396.4" y1="768.63" x2="397.9" y2="768.63" stroke="#6e6e6e" stroke-width="0.8"/>
<line x1="543.4" y1="768.63" x2="544.9" y2="768.63" stroke="#6e6e6e" stroke-width="0.8"/>
<line x1="396.4" y1="767.28" x2="397.9" y2="767.28" stroke="#6e6e6e" stroke-width="0.8"/>
<line x1="543.4" y1="767.28" x2="544.9" y2="767.28" stroke="#6e6e6e" stroke-width="0.8"/>
<line x1="396.4" y1="766.08" x2="397.9" y2="766.08" stroke="#6e6e6e" stroke-width="0.8"/>
<line x1="543.4" y1="766.08" x2="544.9" y2="766.08" stroke="#6e6e6e" stroke-width="0.8"/>
<line x1="396.4" y1="758.16" x2="397.9" y2="758.16" stroke="#6e6e6e" stroke-width="0.8"/>
<line x1="543.4" y1="758.16" x2="544.9" y2="758.16" stroke="#6e6e6e" stroke-width="0.8"/>
<line x1="396.4" y1="753.52" x2="397.9" y2="753.52" stroke="#6e6e6e" stroke-width="0.8"/>
<line x1="543.4" y1="753.52" x2="544.9" y2="753.52" stroke="#6e6e6e" stroke-width="0.8"/>
<line x1="396.4" y1="750.23" x2="397.9" y2="750.23" stroke="#6e6e6e" stroke-width="0.8"/>
<line x1="543.4" y1="750.23" x2="544.9" y2="750.23" stroke="#6e6e6e" stroke-width="0.8"/>
<line x1="396.4" y1="747.68" x2="397.9" y2="747.68" stroke="#6e6e6e" stroke-width="0.8"/>
<line x1="543.4" y1="747.68" x2="544.9" y2="747.68" stroke="#6e6e6e" stroke-width="0.8"/>
<line x1="396.4" y1="745.60" x2="397.9" y2="745.60" stroke="#6e6e6e" stroke-width="0.8"/>
<line x1="543.4" y1="745.60" x2="544.9" y2="745.60" stroke="#6e6e6e" stroke-width="0.8"/>
<line x1="396.4" y1="743.84" x2="397.9" y2="743.84" stroke="#6e6e6e" stroke-width="0.8"/>
<line x1="543.4" y1="743.84" x2="544.9" y2="743.84" stroke="#6e6e6e" stroke-width="0.8"/>
<line x1="396.4" y1="742.31" x2="397.9" y2="742.31" stroke="#6e6e6e" stroke-width="0.8"/>
<line x1="543.4" y1="742.31" x2="544.9" y2="742.31" stroke="#6e6e6e" stroke-width="0.8"/>
<line x1="396.4" y1="740.96" x2="397.9" y2="740.96" stroke="#6e6e6e" stroke-width="0.8"/>
<line x1="543.4" y1="740.96" x2="544.9" y2="740.96" stroke="#6e6e6e" stroke-width="0.8"/>
<line x1="396.4" y1="731.84" x2="397.9" y2="731.84" stroke="#6e6e6e" stroke-width="0.8"/>
<line x1="543.4" y1="731.84" x2="544.9" y2="731.84" stroke="#6e6e6e" stroke-width="0.8"/>
<line x1="396.4" y1="727.20" x2="397.9" y2="727.20" stroke="#6e6e6e" stroke-width="0.8"/>
<line x1="543.4" y1="727.20" x2="544.9" y2="727.20" stroke="#6e6e6e" stroke-width="0.8"/>
<line x1="396.4" y1="723.91" x2="397.9" y2="723.91" stroke="#6e6e6e" stroke-width="0.8"/>
<line x1="543.4" y1="723.91" x2="544.9" y2="723.91" stroke="#6e6e6e" stroke-width="0.8"/>
<line x1="396.4" y1="721.36" x2="397.9" y2="721.36" stroke="#6e6e6e" stroke-width="0.8"/>
<line x1="543.4" y1="721.36" x2="544.9" y2="721.36" stroke="#6e6e6e" stroke-width="0.8"/>
<line x1="396.4" y1="719.28" x2="397.9" y2="719.28" stroke="#6e6e6e" stroke-width="0.8"/>
<line x1="543.4" y1="719.28" x2="544.9" y2="719.28" stroke="#6e6e6e" stroke-width="0.8"/>
<line x1="396.4" y1="717.52" x2="397.9" y2="717.52" stroke="#6e6e6e" stroke-width="0.8"/>
<line x1="543.4" y1="717.52" x2="544.9" y2="717.52" stroke="#6e6e6e" stroke-width="0.8"/>
<line x1="396.4" y1="715.99" x2="397.9" y2="715.99" stroke="#6e6e6e" stroke-width="0.8"/>
<line x1="543.4" y1="715.99" x2="544.9" y2="715.99" stroke="#6e6e6e" stroke-width="0.8"/>
<line x1="396.4" y1="714.64" x2="397.9" y2="714.64" stroke="#6e6e6e" stroke-width="0.8"/>
<line x1="543.4" y1="714.64" x2="544.9" y2="714.64" stroke="#6e6e6e" stroke-width="0.8"/>
<line x1="396.4" y1="713.44" x2="397.9" y2="713.44" stroke="#6e6e6e" stroke-width="0.8"/>
<line x1="543.4" y1="713.44" x2="544.9" y2="713.44" stroke="#6e6e6e" stroke-width="0.8"/>
<line x1="396.4" y1="705.52" x2="397.9" y2="705.52" stroke="#6e6e6e" stroke-width="0.8"/>
<line x1="543.4" y1="705.52" x2="544.9" y2="705.52" stroke="#6e6e6e" stroke-width="0.8"/>
<line x1="396.4" y1="700.88" x2="397.9" y2="700.88" stroke="#6e6e6e" stroke-width="0.8"/>
<line x1="543.4" y1="700.88" x2="544.9" y2="700.88" stroke="#6e6e6e" stroke-width="0.8"/>
<line x1="396.4" y1="697.59" x2="397.9" y2="697.59" stroke="#6e6e6e" stroke-width="0.8"/>
<line x1="543.4" y1="697.59" x2="544.9" y2="697.59" stroke="#6e6e6e" stroke-width="0.8"/>
<line x1="396.4" y1="695.04" x2="397.9" y2="695.04" stroke="#6e6e6e" stroke-width="0.8"/>
<line x1="543.4" y1="695.04" x2="544.9" y2="695.04" stroke="#6e6e6e" stroke-width="0.8"/>
<line x1="396.4" y1="692.96" x2="397.9" y2="692.96" stroke="#6e6e6e" stroke-width="0.8"/>
<line x1="543.4" y1="692.96" x2="544.9" y2="692.96" stroke="#6e6e6e" stroke-width="0.8"/>
<line x1="396.4" y1="691.20" x2="397.9" y2="691.20" stroke="#6e6e6e" stroke-width="0.8"/>
<line x1="543.4" y1="691.20" x2="544.9" y2="691.20" stroke="#6e6e6e" stroke-width="0.8"/>
<line x1="396.4" y1="689.67" x2="397.9" y2="689.67" stroke="#6e6e6e" stroke-width="0.8"/>
<line x1="543.4" y1="689.67" x2="544.9" y2="689.67" stroke="#6e6e6e" stroke-width="0.8"/>
<line x1="396.4" y1="688.32" x2="397.9" y2="688.32" stroke="#6e6e6e" stroke-width="0.8"/>
<line x1="543.4" y1="688.32" x2="544.9" y2="688.32" stroke="#6e6e6e" stroke-width="0.8"/>
<line x1="396.4" y1="679.20" x2="397.9" y2="679.20" stroke="#6e6e6e" stroke-width="0.8"/>
<line x1="543.4" y1="679.20" x2="544.9" y2="679.20" stroke="#6e6e6e" stroke-width="0.8"/>
<line x1="396.4" y1="674.56" x2="397.9" y2="674.56" stroke="#6e6e6e" stroke-width="0.8"/>
<line x1="543.4" y1="674.56" x2="544.9" y2="674.56" stroke="#6e6e6e" stroke-width="0.8"/>
<line x1="396.4" y1="671.27" x2="397.9" y2="671.27" stroke="#6e6e6e" stroke-width="0.8"/>
<line x1="543.4" y1="671.27" x2="544.9" y2="671.27" stroke="#6e6e6e" stroke-width="0.8"/>
<line x1="396.4" y1="668.72" x2="397.9" y2="668.72" stroke="#6e6e6e" stroke-width="0.8"/>
<line x1="543.4" y1="668.72" x2="544.9" y2="668.72" stroke="#6e6e6e" stroke-width="0.8"/>
<line x1="396.4" y1="666.64" x2="397.9" y2="666.64" stroke="#6e6e6e" stroke-width="0.8"/>
<line x1="543.4" y1="666.64" x2="544.9" y2="666.64" stroke="#6e6e6e" stroke-width="0.8"/>
<line x1="396.4" y1="664.88" x2="397.9" y2="664.88" stroke="#6e6e6e" stroke-width="0.8"/>
<line x1="543.4" y1="664.88" x2="544.9" y2="664.88" stroke="#6e6e6e" stroke-width="0.8"/>
<line x1="396.4" y1="663.35" x2="397.9" y2="663.35" stroke="#6e6e6e" stroke-width="0.8"/>
<line x1="543.4" y1="663.35" x2="544.9" y2="663.35" stroke="#6e6e6e" stroke-width="0.8"/>
<line x1="396.4" y1="662.00" x2="397.9" y2="662.00" stroke="#6e6e6e" stroke-width="0.8"/>
<line x1="543.4" y1="662.00" x2="544.9" y2="662.00" stroke="#6e6e6e" stroke-width="0.8"/>
<line x1="396.4" y1="660.80" x2="397.9" y2="660.80" stroke="#6e6e6e" stroke-width="0.8"/>
<line x1="543.4" y1="660.80" x2="544.9" y2="660.80" stroke="#6e6e6e" stroke-width="0.8"/>
<line x1="396.4" y1="652.88" x2="397.9" y2="652.88" stroke="#6e6e6e" stroke-width="0.8"/>
<line x1="543.4" y1="652.88" x2="544.9" y2="652.88" stroke="#6e6e6e" stroke-width="0.8"/>
<line x1="396.4" y1="648.24" x2="397.9" y2="648.24" stroke="#6e6e6e" stroke-width="0.8"/>
<line x1="543.4" y1="648.24" x2="544.9" y2="648.24" stroke="#6e6e6e" stroke-width="0.8"/>
<line x1="396.4" y1="644.95" x2="397.9" y2="644.95" stroke="#6e6e6e" stroke-width="0.8"/>
<line x1="543.4" y1="644.95" x2="544.9" y2="644.95" stroke="#6e6e6e" stroke-width="0.8"/>
<line x1="396.4" y1="642.40" x2="397.9" y2="642.40" stroke="#6e6e6e" stroke-width="0.8"/>
<line x1="543.4" y1="642.40" x2="544.9" y2="642.40" stroke="#6e6e6e" stroke-width="0.8"/>
<line x1="396.4" y1="640.32" x2="397.9" y2="640.32" stroke="#6e6e6e" stroke-width="0.8"/>
<line x1="543.4" y1="640.32" x2="544.9" y2="640.32" stroke="#6e6e6e" stroke-width="0.8"/>
<line x1="396.4" y1="638.56" x2="397.9" y2="638.56" stroke="#6e6e6e" stroke-width="0.8"/>
<line x1="543.4" y1="638.56" x2="544.9" y2="638.56" stroke="#6e6e6e" stroke-width="0.8"/>
<line x1="396.4" y1="637.03" x2="397.9" y2="637.03" stroke="#6e6e6e" stroke-width="0.8"/>
<line x1="543.4" y1="637.03" x2="544.9" y2="637.03" stroke="#6e6e6e" stroke-width="0.8"/>
<line x1="396.4" y1="635.68" x2="397.9" y2="635.68" stroke="#6e6e6e" stroke-width="0.8"/>
<line x1="543.4" y1="635.68" x2="544.9" y2="635.68" stroke="#6e6e6e" stroke-width="0.8"/>
<line x1="396.4" y1="626.56" x2="397.9" y2="626.56" stroke="#6e6e6e" stroke-width="0.8"/>
<line x1="543.4" y1="626.56" x2="544.9" y2="626.56" stroke="#6e6e6e" stroke-width="0.8"/>
<line x1="396.4" y1="621.92" x2="397.9" y2="621.92" stroke="#6e6e6e" stroke-width="0.8"/>
<line x1="543.4" y1="621.92" x2="544.9" y2="621.92" stroke="#6e6e6e" stroke-width="0.8"/>
<line x1="396.4" y1="618.63" x2="397.9" y2="618.63" stroke="#6e6e6e" stroke-width="0.8"/>
<line x1="543.4" y1="618.63" x2="544.9" y2="618.63" stroke="#6e6e6e" stroke-width="0.8"/>
<line x1="396.4" y1="616.08" x2="397.9" y2="616.08" stroke="#6e6e6e" stroke-width="0.8"/>
<line x1="543.4" y1="616.08" x2="544.9" y2="616.08" stroke="#6e6e6e" stroke-width="0.8"/>
<line x1="396.4" y1="614.00" x2="397.9" y2="614.00" stroke="#6e6e6e" stroke-width="0.8"/>
<line x1="543.4" y1="614.00" x2="544.9" y2="614.00" stroke="#6e6e6e" stroke-width="0.8"/>
<line x1="396.4" y1="612.24" x2="397.9" y2="612.24" stroke="#6e6e6e" stroke-width="0.8"/>
<line x1="543.4" y1="612.24" x2="544.9" y2="612.24" stroke="#6e6e6e" stroke-width="0.8"/>
<line x1="396.4" y1="610.71" x2="397.9" y2="610.71" stroke="#6e6e6e" stroke-width="0.8"/>
<line x1="543.4" y1="610.71" x2="544.9" y2="610.71" stroke="#6e6e6e" stroke-width="0.8"/>
<line x1="396.4" y1="609.36" x2="397.9" y2="609.36" stroke="#6e6e6e" stroke-width="0.8"/>
<line x1="543.4" y1="609.36" x2="544.9" y2="609.36" stroke="#6e6e6e" stroke-width="0.8"/>
<line x1="396.4" y1="608.16" x2="397.9" y2="608.16" stroke="#6e6e6e" stroke-width="0.8"/>
<line x1="543.4" y1="608.16" x2="544.9" y2="608.16" stroke="#6e6e6e" stroke-width="0.8"/>
<line x1="426.10" y1="842.5" x2="426.10" y2="840.5" stroke="#6e6e6e" stroke-width="0.8"/>
<line x1="426.10" y1="605.2" x2="426.10" y2="607.2" stroke="#6e6e6e" stroke-width="0.8"/>
<line x1="455.80" y1="842.5" x2="455.80" y2="840.5" stroke="#6e6e6e" stroke-width="0.8"/>
<line x1="455.80" y1="605.2" x2="455.80" y2="607.2" stroke="#6e6e6e" stroke-width="0.8"/>
<line x1="485.50" y1="842.5" x2="485.50" y2="840.5" stroke="#6e6e6e" stroke-width="0.8"/>
<line x1="485.50" y1="605.2" x2="485.50" y2="607.2" stroke="#6e6e6e" stroke-width="0.8"/>
<line x1="515.20" y1="842.5" x2="515.20" y2="840.5" stroke="#6e6e6e" stroke-width="0.8"/>
<line x1="515.20" y1="605.2" x2="515.20" y2="607.2" stroke="#6e6e6e" stroke-width="0.8"/>
<line x1="396.4" y1="792.40" x2="398.4" y2="792.40" stroke="#6e6e6e" stroke-width="0.8"/>
<line x1="544.9" y1="792.40" x2="542.9" y2="792.40" stroke="#6e6e6e" stroke-width="0.8"/>
<line x1="396.4" y1="739.76" x2="398.4" y2="739.76" stroke="#6e6e6e" stroke-width="0.8"/>
<line x1="544.9" y1="739.76" x2="542.9" y2="739.76" stroke="#6e6e6e" stroke-width="0.8"/>
<line x1="396.4" y1="687.12" x2="398.4" y2="687.12" stroke="#6e6e6e" stroke-width="0.8"/>
<line x1="544.9" y1="687.12" x2="542.9" y2="687.12" stroke="#6e6e6e" stroke-width="0.8"/>
<line x1="396.4" y1="634.48" x2="398.4" y2="634.48" stroke="#6e6e6e" stroke-width="0.8"/>
<line x1="544.9" y1="634.48" x2="542.9" y2="634.48" stroke="#6e6e6e" stroke-width="0.8"/>
<text x="426.10" y="855.4" text-anchor="middle" font-size="9.4" font-family="&quot;Liberation Sans&quot;, sans-serif" font-weight="bold" stroke="#1a1a1a" stroke-width="0.22" fill="#1a1a1a">100</text>
<text x="455.80" y="855.4" text-anchor="middle" font-size="9.4" font-family="&quot;Liberation Sans&quot;, sans-serif" font-weight="bold" stroke="#1a1a1a" stroke-width="0.22" fill="#1a1a1a">200</text>
<text x="485.50" y="855.4" text-anchor="middle" font-size="9.4" font-family="&quot;Liberation Sans&quot;, sans-serif" font-weight="bold" stroke="#1a1a1a" stroke-width="0.22" fill="#1a1a1a">300</text>
<text x="515.20" y="855.4" text-anchor="middle" font-size="9.4" font-family="&quot;Liberation Sans&quot;, sans-serif" font-weight="bold" stroke="#1a1a1a" stroke-width="0.22" fill="#1a1a1a">400</text>
<text x="544.90" y="855.4" text-anchor="middle" font-size="9.4" font-family="&quot;Liberation Sans&quot;, sans-serif" font-weight="bold" stroke="#1a1a1a" stroke-width="0.22" fill="#1a1a1a">500</text>
<text x="393.0" y="797.90" text-anchor="end" font-size="9.4" font-family="&quot;Liberation Sans&quot;, sans-serif" font-weight="bold" stroke="#1a1a1a" stroke-width="0.22" fill="#1a1a1a">10<tspan font-size="7.4" dx="0.5" dy="-4.5">2</tspan></text>
<text x="393.0" y="745.26" text-anchor="end" font-size="9.4" font-family="&quot;Liberation Sans&quot;, sans-serif" font-weight="bold" stroke="#1a1a1a" stroke-width="0.22" fill="#1a1a1a">10<tspan font-size="7.4" dx="0.5" dy="-4.5">4</tspan></text>
<text x="393.0" y="692.62" text-anchor="end" font-size="9.4" font-family="&quot;Liberation Sans&quot;, sans-serif" font-weight="bold" stroke="#1a1a1a" stroke-width="0.22" fill="#1a1a1a">10<tspan font-size="7.4" dx="0.5" dy="-4.5">6</tspan></text>
<text x="393.0" y="639.98" text-anchor="end" font-size="9.4" font-family="&quot;Liberation Sans&quot;, sans-serif" font-weight="bold" stroke="#1a1a1a" stroke-width="0.22" fill="#1a1a1a">10<tspan font-size="7.4" dx="0.5" dy="-4.5">8</tspan></text>
<text x="470.6" y="601.8" text-anchor="middle" font-size="10.5" font-family="&quot;Liberation Sans&quot;, sans-serif" font-weight="bold" stroke="#1a1a1a" stroke-width="0.22" fill="#1a1a1a">Objective space</text>
<text x="470.6" y="869.5" text-anchor="middle" font-size="10.5" font-family="&quot;Liberation Sans&quot;, sans-serif" font-weight="bold" stroke="#1a1a1a" stroke-width="0.22" fill="#1a1a1a">Iteration</text>
<text transform="translate(374.7 723.9) rotate(-90)" x="0" y="0" text-anchor="middle" font-size="10.5" font-family="&quot;Liberation Sans&quot;, sans-serif" font-weight="bold" stroke="#1a1a1a" stroke-width="0.22" fill="#1a1a1a">Best score obtained so far</text>
<rect x="559.2" y="604.7" width="14.7" height="237.7" fill="url(#jet)" stroke="#6e6e6e" stroke-width="0.8"/>
<text x="578.4" y="846.80" font-size="9" font-family="&quot;Liberation Sans&quot;, sans-serif" font-weight="bold" stroke="#1a1a1a" stroke-width="0.22" fill="#1a1a1a">0</text>
<line x1="571.9" y1="818.63" x2="573.9" y2="818.63" stroke="#6e6e6e" stroke-width="0.8"/>
<text x="578.4" y="823.03" font-size="9" font-family="&quot;Liberation Sans&quot;, sans-serif" font-weight="bold" stroke="#1a1a1a" stroke-width="0.22" fill="#1a1a1a">0.1</text>
<line x1="571.9" y1="794.86" x2="573.9" y2="794.86" stroke="#6e6e6e" stroke-width="0.8"/>
<text x="578.4" y="799.26" font-size="9" font-family="&quot;Liberation Sans&quot;, sans-serif" font-weight="bold" stroke="#1a1a1a" stroke-width="0.22" fill="#1a1a1a">0.2</text>
<line x1="571.9" y1="771.09" x2="573.9" y2="771.09" stroke="#6e6e6e" stroke-width="0.8"/>
<text x="578.4" y="775.49" font-size="9" font-family="&quot;Liberation Sans&quot;, sans-serif" font-weight="bold" stroke="#1a1a1a" stroke-width="0.22" fill="#1a1a1a">0.3</text>
<line x1="571.9" y1="747.32" x2="573.9" y2="747.32" stroke="#6e6e6e" stroke-width="0.8"/>
<text x="578.4" y="751.72" font-size="9" font-family="&quot;Liberation Sans&quot;, sans-serif" font-weight="bold" stroke="#1a1a1a" stroke-width="0.22" fill="#1a1a1a">0.4</text>
<line x1="571.9" y1="723.55" x2="573.9" y2="723.55" stroke="#6e6e6e" stroke-width="0.8"/>
<text x="578.4" y="727.95" font-size="9" font-family="&quot;Liberation Sans&quot;, sans-serif" font-weight="bold" stroke="#1a1a1a" stroke-width="0.22" fill="#1a1a1a">0.5</text>
<line x1="571.9" y1="699.78" x2="573.9" y2="699.78" stroke="#6e6e6e" stroke-width="0.8"/>
<text x="578.4" y="704.18" font-size="9" font-family="&quot;Liberation Sans&quot;, sans-serif" font-weight="bold" stroke="#1a1a1a" stroke-width="0.22" fill="#1a1a1a">0.6</text>
<line x1="571.9" y1="676.01" x2="573.9" y2="676.01" stroke="#6e6e6e" stroke-width="0.8"/>
<text x="578.4" y="680.41" font-size="9" font-family="&quot;Liberation Sans&quot;, sans-serif" font-weight="bold" stroke="#1a1a1a" stroke-width="0.22" fill="#1a1a1a">0.7</text>
<line x1="571.9" y1="652.24" x2="573.9" y2="652.24" stroke="#6e6e6e" stroke-width="0.8"/>
<text x="578.4" y="656.64" font-size="9" font-family="&quot;Liberation Sans&quot;, sans-serif" font-weight="bold" stroke="#1a1a1a" stroke-width="0.22" fill="#1a1a1a">0.8</text>
<line x1="571.9" y1="628.47" x2="573.9" y2="628.47" stroke="#6e6e6e" stroke-width="0.8"/>
<text x="578.4" y="632.87" font-size="9" font-family="&quot;Liberation Sans&quot;, sans-serif" font-weight="bold" stroke="#1a1a1a" stroke-width="0.22" fill="#1a1a1a">0.9</text>
<text x="578.4" y="609.10" font-size="9" font-family="&quot;Liberation Sans&quot;, sans-serif" font-weight="bold" stroke="#1a1a1a" stroke-width="0.22" fill="#1a1a1a">1</text>
<rect x="597.4" y="693.5" width="81.3" height="64.3" fill="#fff" stroke="#6e6e6e" stroke-width="0.8"/>
<line x1="600.6" y1="701.7" x2="634.3" y2="701.7" stroke="#dc1419" stroke-width="2"/>
<text x="637.5" y="705.6" font-size="9.1" font-family="&quot;Liberation Sans&quot;, sans-serif" font-weight="bold" stroke="#1a1a1a" stroke-width="0.22" fill="#1a1a1a">Chimp</text>
<line x1="600.6" y1="714.0" x2="634.3" y2="714.0" stroke="#111111" stroke-width="2" stroke-dasharray="7 6.3"/>
<text x="637.5" y="717.9" font-size="9.1" font-family="&quot;Liberation Sans&quot;, sans-serif" font-weight="bold" stroke="#1a1a1a" stroke-width="0.22" fill="#1a1a1a">SChoA</text>
<line x1="600.6" y1="726.3" x2="634.3" y2="726.3" stroke="#16e416" stroke-width="2"/>
<text x="637.5" y="730.2" font-size="9.1" font-family="&quot;Liberation Sans&quot;, sans-serif" font-weight="bold" stroke="#1a1a1a" stroke-width="0.22" fill="#1a1a1a">MPSO</text>
<line x1="600.6" y1="738.5" x2="634.3" y2="738.5" stroke="#1414dc" stroke-width="2"/>
<text x="637.5" y="742.4" font-size="9.1" font-family="&quot;Liberation Sans&quot;, sans-serif" font-weight="bold" stroke="#1a1a1a" stroke-width="0.22" fill="#1a1a1a">SCA</text>
<line x1="600.6" y1="750.6" x2="634.3" y2="750.6" stroke="#da16da" stroke-width="2"/>
<text x="637.5" y="754.5" font-size="9.1" font-family="&quot;Liberation Sans&quot;, sans-serif" font-weight="bold" stroke="#1a1a1a" stroke-width="0.22" fill="#1a1a1a">TACPSO</text></g></svg>
</body></html>
